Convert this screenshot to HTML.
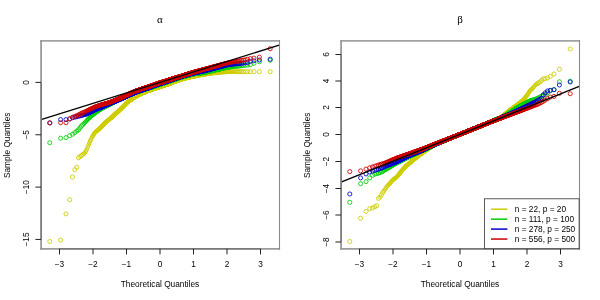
<!DOCTYPE html>
<html><head><meta charset="utf-8"><title>QQ plots</title>
<style>
html,body{margin:0;padding:0;background:#fff;}
svg{display:block;will-change:transform}
text{font-family:"Liberation Sans",sans-serif;fill:#000}
.ax{font-size:8.3px}
.lab{font-size:8.3px}
.leg{font-size:8.3px}
.p{fill:none;stroke:none}
.ttl{font-family:"Liberation Serif",serif;font-size:11px;font-style:normal}
</style></head><body>
<svg width="600" height="300" viewBox="0 0 600 300">
<rect width="600" height="300" fill="#fff"/>
<defs><marker id="mys" markerUnits="userSpaceOnUse" markerWidth="8" markerHeight="8" refX="4" refY="4" viewBox="0 0 8 8" orient="0"><circle cx="4" cy="4" r="2.05" fill="none" stroke="#cdcd00" stroke-width="0.85"/></marker><marker id="myd" markerUnits="userSpaceOnUse" markerWidth="8" markerHeight="8" refX="4" refY="4" viewBox="0 0 8 8" orient="0"><circle cx="4" cy="4" r="1.78" fill="none" stroke="#cdcd00" stroke-width="0.95"/></marker><marker id="mgs" markerUnits="userSpaceOnUse" markerWidth="8" markerHeight="8" refX="4" refY="4" viewBox="0 0 8 8" orient="0"><circle cx="4" cy="4" r="2.05" fill="none" stroke="#00cd00" stroke-width="0.85"/></marker><marker id="mgd" markerUnits="userSpaceOnUse" markerWidth="8" markerHeight="8" refX="4" refY="4" viewBox="0 0 8 8" orient="0"><circle cx="4" cy="4" r="1.78" fill="none" stroke="#00cd00" stroke-width="0.95"/></marker><marker id="mbs" markerUnits="userSpaceOnUse" markerWidth="8" markerHeight="8" refX="4" refY="4" viewBox="0 0 8 8" orient="0"><circle cx="4" cy="4" r="2.05" fill="none" stroke="#0000cd" stroke-width="0.85"/></marker><marker id="mbd" markerUnits="userSpaceOnUse" markerWidth="8" markerHeight="8" refX="4" refY="4" viewBox="0 0 8 8" orient="0"><circle cx="4" cy="4" r="1.78" fill="none" stroke="#0000cd" stroke-width="0.95"/></marker><marker id="mrs" markerUnits="userSpaceOnUse" markerWidth="8" markerHeight="8" refX="4" refY="4" viewBox="0 0 8 8" orient="0"><circle cx="4" cy="4" r="2.05" fill="none" stroke="#cd0000" stroke-width="0.85"/></marker><marker id="mrd" markerUnits="userSpaceOnUse" markerWidth="8" markerHeight="8" refX="4" refY="4" viewBox="0 0 8 8" orient="0"><circle cx="4" cy="4" r="1.78" fill="none" stroke="#cd0000" stroke-width="0.95"/></marker></defs>
<polyline class="p" marker-start="url(#mys)" marker-mid="url(#mys)" marker-end="url(#mys)" points="49.8,241.5 60.6,240.1 66.0,213.9 69.7,199.7 72.5,177.0 74.8,169.7 76.8,167.2 78.5,157.8 80.0,156.6 81.4,155.6 82.7,154.6"/><polyline class="p" marker-start="url(#myd)" marker-mid="url(#myd)" marker-end="url(#myd)" points="83.8,153.6 84.9,152.8 85.9,151.1 86.9,149.4 87.7,147.1 88.6,145.0 89.4,143.0 90.1,141.2 90.8,139.7 91.5,138.3 92.2,137.0 92.8,135.8 93.5,134.7 94.1,133.7 94.6,132.9 95.2,132.4 95.7,132.0 96.2,131.5 96.7,131.1 97.2,130.6 97.7,130.2 98.2,129.8 98.6,129.4 99.1,129.0 99.5,128.6 99.9,128.2 100.4,127.8 100.8,127.4 101.2,127.0 101.5,126.6 101.9,126.2 102.3,125.8 102.7,125.4 103.0,125.1 103.4,124.7 103.7,124.4 104.1,124.0 104.4,123.7 104.7,123.3 105.1,123.0 105.4,122.7 105.7,122.3 106.0,122.1 106.3,121.8 106.6,121.6 106.9,121.3 107.2,121.1 107.5,120.8 107.8,120.6 108.1,120.4 108.3,120.1 108.6,119.9 108.9,119.7 109.1,119.4 109.4,119.2 109.7,119.0 109.9,118.8 110.2,118.6 110.4,118.4 110.7,118.2 110.9,118.0 111.2,117.8 111.4,117.6 111.7,117.4 111.9,117.1 112.1,116.9 112.4,116.7 112.6,116.5 112.8,116.3 113.0,116.1 113.3,115.9 113.5,115.7 113.7,115.5 113.9,115.3 114.1,115.1 114.4,114.9 114.6,114.7 114.8,114.5 115.0,114.3 115.2,114.1 115.4,113.9 115.6,113.8 115.8,113.6 116.0,113.4 116.2,113.2 116.4,113.0 116.6,112.9 116.8,112.7 117.0,112.5 117.2,112.3 117.4,112.2 117.5,112.0 117.7,111.8 117.9,111.6 118.1,111.5 118.3,111.3 118.5,111.1 118.6,111.0 118.8,110.8 119.0,110.6 119.2,110.4 119.4,110.3 119.5,110.1 119.7,109.9 119.9,109.8 120.0,109.6 120.2,109.5 120.4,109.3 120.6,109.1 120.7,109.0 120.9,108.8 121.1,108.7 121.2,108.5 121.4,108.3 121.5,108.2 121.7,108.0 121.9,107.9 122.0,107.7 122.2,107.6 122.3,107.4 122.5,107.3 122.7,107.1 122.8,107.0 123.0,106.8 123.1,106.7 123.3,106.5 123.4,106.4 123.6,106.2 123.7,106.0 123.9,105.9 124.0,105.7 124.2,105.5 124.3,105.4 124.5,105.2 124.6,105.1 124.8,104.9 124.9,104.7 125.1,104.6 125.2,104.4 125.4,104.3 125.5,104.1 125.6,104.0 125.8,103.8 125.9,103.7 126.1,103.5 126.2,103.4 126.3,103.2 126.5,103.1 126.6,102.9 126.8,102.8 126.9,102.7 127.0,102.6 127.2,102.5 127.3,102.4 127.4,102.3 127.6,102.2 127.7,102.1 127.8,102.0 128.0,101.9 128.1,101.8 128.2,101.7 128.4,101.6 128.5,101.5 128.6,101.4 128.8,101.3 128.9,101.2 129.0,101.2 129.1,101.1 129.3,101.0 129.4,100.9 129.5,100.8 129.7,100.7 129.8,100.6 129.9,100.5 130.0,100.4 130.2,100.3 130.3,100.2 130.4,100.2 130.5,100.1 130.7,100.0 130.8,99.9 130.9,99.8 131.0,99.7 131.1,99.6 131.3,99.5 131.4,99.5 131.5,99.4 131.6,99.3 131.7,99.2 131.9,99.1 132.0,99.0 132.1,98.9 132.2,98.9 132.3,98.8 132.5,98.7 132.6,98.6 132.7,98.5 132.8,98.4 132.9,98.3 133.0,98.3 133.2,98.2 133.3,98.1 133.4,98.0 133.5,97.9 133.6,97.8 133.7,97.8 133.8,97.7 134.0,97.6 134.1,97.5 134.2,97.4 134.3,97.4 134.4,97.3 134.5,97.2 134.6,97.1 134.7,97.0 134.9,97.0 135.0,96.9 135.1,96.8 135.2,96.8 135.3,96.7 135.4,96.6 135.5,96.6 135.6,96.5 135.7,96.5 135.9,96.4 136.0,96.4 136.1,96.3 136.2,96.3 136.3,96.2 136.4,96.1 136.5,96.1 136.6,96.0 136.7,96.0 136.8,95.9 136.9,95.9 137.0,95.8 137.1,95.8 137.2,95.7 137.4,95.7 137.5,95.6 137.6,95.6 137.7,95.5 137.8,95.5 137.9,95.4 138.0,95.3 138.1,95.3 138.2,95.2 138.3,95.2 138.4,95.1 138.5,95.1 138.6,95.0 138.7,95.0 138.8,94.9 138.9,94.9 139.0,94.8 139.1,94.8 139.2,94.7 139.3,94.7 139.4,94.6 139.5,94.6 139.6,94.5 139.7,94.5 139.8,94.4 139.9,94.4 140.0,94.3 140.1,94.3 140.2,94.2 140.3,94.2 140.4,94.1 140.5,94.1 140.6,94.0 140.7,94.0 140.8,93.9 140.9,93.9 141.0,93.8 141.1,93.8 141.2,93.7 141.3,93.7 141.4,93.6 141.5,93.6 141.6,93.5 141.7,93.5 141.8,93.4 141.9,93.4 142.0,93.3 142.1,93.3 142.2,93.2 142.3,93.2 142.4,93.1 142.5,93.1 142.6,93.0 142.7,93.0 142.8,92.9 142.9,92.9 143.0,92.8 143.1,92.8 143.2,92.7 143.2,92.7 143.3,92.6 143.4,92.6 143.5,92.6 143.6,92.5 143.7,92.5 143.8,92.5 143.9,92.4 144.0,92.4 144.1,92.4 144.2,92.3 144.3,92.3 144.4,92.2 144.5,92.2 144.6,92.2 144.7,92.1 144.8,92.1 144.8,92.1 144.9,92.0 145.0,92.0 145.1,92.0 145.2,91.9 145.3,91.9 145.4,91.8 145.5,91.8 145.6,91.8 145.7,91.7 145.8,91.7 145.9,91.7 146.0,91.6 146.0,91.6 146.1,91.6 146.2,91.5 146.3,91.5 146.4,91.5 146.5,91.4 146.6,91.4 146.7,91.4 146.8,91.3 146.9,91.3 147.0,91.2 147.0,91.2 147.1,91.2 147.2,91.1 147.3,91.1 147.4,91.1 147.5,91.0 147.6,91.0 147.7,91.0 147.8,90.9 147.9,90.9 147.9,90.9 148.0,90.8 148.1,90.8 148.2,90.8 148.3,90.7 148.4,90.7 148.5,90.7 148.6,90.6 148.7,90.6 148.7,90.6 148.8,90.5 148.9,90.5 149.0,90.4 149.1,90.4 149.2,90.4 149.3,90.3 149.4,90.3 149.5,90.3 149.5,90.2 149.6,90.2 149.7,90.2 149.8,90.1 149.9,90.1 150.0,90.1 150.1,90.0 150.2,90.0 150.2,90.0 150.3,89.9 150.4,89.9 150.5,89.9 150.6,89.8 150.7,89.8 150.8,89.8 150.9,89.7 150.9,89.7 151.0,89.7 151.1,89.6 151.2,89.6 151.3,89.6 151.4,89.5 151.5,89.5 151.6,89.5 151.6,89.4 151.7,89.4 151.8,89.4 151.9,89.3 152.0,89.3 152.1,89.3 152.2,89.3 152.2,89.2 152.3,89.2 152.4,89.2 152.5,89.2 152.6,89.1 152.7,89.1 152.8,89.1 152.9,89.0 152.9,89.0 153.0,89.0 153.1,89.0 153.2,88.9 153.3,88.9 153.4,88.9 153.5,88.9 153.5,88.8 153.6,88.8 153.7,88.8 153.8,88.8 153.9,88.7 154.0,88.7 154.0,88.7 154.1,88.6 154.2,88.6 154.3,88.6 154.4,88.6 154.5,88.5 154.6,88.5 154.6,88.5 154.7,88.5 154.8,88.4 154.9,88.4 155.0,88.4 155.1,88.4 155.2,88.3 155.2,88.3 155.3,88.3 155.4,88.2 155.5,88.2 155.6,88.2 155.7,88.2 155.7,88.1 155.8,88.1 155.9,88.1 156.0,88.1 156.1,88.0 156.2,88.0 156.3,88.0 156.3,88.0 156.4,87.9 156.5,87.9 156.6,87.9 156.7,87.8 156.8,87.8 156.8,87.8 156.9,87.8 157.0,87.7 157.1,87.7 157.2,87.7 157.3,87.7 157.4,87.6 157.4,87.6 157.5,87.6 157.6,87.6 157.7,87.5 157.8,87.5 157.9,87.5 157.9,87.4 158.0,87.4 158.1,87.4 158.2,87.4 158.3,87.3 158.4,87.3 158.4,87.3 158.5,87.3 158.6,87.2 158.7,87.2 158.8,87.2 158.9,87.2 159.0,87.1 159.0,87.1 159.1,87.1 159.2,87.0 159.3,87.0 159.4,87.0 159.5,87.0 159.5,86.9 159.6,86.9 159.7,86.9 159.8,86.9 159.9,86.8 160.0,86.8 160.0,86.8 160.1,86.8 160.2,86.7 160.3,86.7 160.4,86.7 160.5,86.6 160.5,86.6 160.6,86.6 160.7,86.6 160.8,86.5 160.9,86.5 161.0,86.5 161.0,86.4 161.1,86.4 161.2,86.4 161.3,86.4 161.4,86.3 161.5,86.3 161.6,86.3 161.6,86.2 161.7,86.2 161.8,86.2 161.9,86.2 162.0,86.1 162.1,86.1 162.1,86.1 162.2,86.0 162.3,86.0 162.4,86.0 162.5,86.0 162.6,85.9 162.6,85.9 162.7,85.9 162.8,85.8 162.9,85.8 163.0,85.8 163.1,85.8 163.2,85.7 163.2,85.7 163.3,85.7 163.4,85.6 163.5,85.6 163.6,85.6 163.7,85.6 163.7,85.5 163.8,85.5 163.9,85.5 164.0,85.4 164.1,85.4 164.2,85.4 164.3,85.4 164.3,85.3 164.4,85.3 164.5,85.3 164.6,85.2 164.7,85.2 164.8,85.2 164.8,85.1 164.9,85.1 165.0,85.1 165.1,85.1 165.2,85.0 165.3,85.0 165.4,85.0 165.4,84.9 165.5,84.9 165.6,84.9 165.7,84.9 165.8,84.8 165.9,84.8 166.0,84.8 166.0,84.7 166.1,84.7 166.2,84.7 166.3,84.7 166.4,84.6 166.5,84.6 166.5,84.6 166.6,84.5 166.7,84.5 166.8,84.5 166.9,84.5 167.0,84.4 167.1,84.4 167.1,84.4 167.2,84.3 167.3,84.3 167.4,84.3 167.5,84.2 167.6,84.2 167.7,84.2 167.8,84.2 167.8,84.1 167.9,84.1 168.0,84.1 168.1,84.0 168.2,84.0 168.3,84.0 168.4,84.0 168.4,83.9 168.5,83.9 168.6,83.9 168.7,83.8 168.8,83.8 168.9,83.8 169.0,83.7 169.1,83.7 169.1,83.7 169.2,83.6 169.3,83.6 169.4,83.6 169.5,83.5 169.6,83.5 169.7,83.5 169.8,83.4 169.8,83.4 169.9,83.4 170.0,83.3 170.1,83.3 170.2,83.3 170.3,83.2 170.4,83.2 170.5,83.2 170.5,83.1 170.6,83.1 170.7,83.1 170.8,83.0 170.9,83.0 171.0,83.0 171.1,82.9 171.2,82.9 171.3,82.9 171.3,82.8 171.4,82.8 171.5,82.8 171.6,82.7 171.7,82.7 171.8,82.7 171.9,82.6 172.0,82.6 172.1,82.6 172.1,82.5 172.2,82.5 172.3,82.5 172.4,82.4 172.5,82.4 172.6,82.4 172.7,82.3 172.8,82.3 172.9,82.3 173.0,82.2 173.0,82.2 173.1,82.2 173.2,82.1 173.3,82.1 173.4,82.1 173.5,82.0 173.6,82.0 173.7,82.0 173.8,81.9 173.9,81.9 174.0,81.9 174.0,81.8 174.1,81.8 174.2,81.8 174.3,81.7 174.4,81.7 174.5,81.7 174.6,81.6 174.7,81.6 174.8,81.5 174.9,81.5 175.0,81.5 175.1,81.4 175.2,81.4 175.2,81.4 175.3,81.3 175.4,81.3 175.5,81.3 175.6,81.2 175.7,81.2 175.8,81.2 175.9,81.1 176.0,81.1 176.1,81.1 176.2,81.0 176.3,81.0 176.4,81.0 176.5,80.9 176.6,80.9 176.7,80.8 176.8,80.8 176.8,80.8 176.9,80.8 177.0,80.7 177.1,80.7 177.2,80.7 177.3,80.6 177.4,80.6 177.5,80.6 177.6,80.5 177.7,80.5 177.8,80.5 177.9,80.4 178.0,80.4 178.1,80.4 178.2,80.4 178.3,80.3 178.4,80.3 178.5,80.3 178.6,80.2 178.7,80.2 178.8,80.2 178.9,80.1 179.0,80.1 179.1,80.1 179.2,80.0 179.3,80.0 179.4,80.0 179.5,80.0 179.6,79.9 179.7,79.9 179.8,79.9 179.9,79.8 180.0,79.8 180.1,79.8 180.2,79.7 180.3,79.7 180.4,79.7 180.5,79.6 180.6,79.6 180.7,79.6 180.8,79.5 180.9,79.5 181.0,79.5 181.1,79.4 181.2,79.4 181.3,79.4 181.4,79.3 181.5,79.3 181.6,79.3 181.7,79.2 181.8,79.2 181.9,79.2 182.0,79.2 182.1,79.1 182.2,79.1 182.3,79.1 182.4,79.0 182.5,79.0 182.6,79.0 182.8,78.9 182.9,78.9 183.0,78.9 183.1,78.8 183.2,78.8 183.3,78.8 183.4,78.7 183.5,78.7 183.6,78.6 183.7,78.6 183.8,78.6 183.9,78.5 184.0,78.5 184.1,78.5 184.3,78.4 184.4,78.4 184.5,78.4 184.6,78.3 184.7,78.3 184.8,78.3 184.9,78.2 185.0,78.2 185.1,78.2 185.3,78.2 185.4,78.1 185.5,78.1 185.6,78.1 185.7,78.1 185.8,78.0 185.9,78.0 186.0,78.0 186.2,77.9 186.3,77.9 186.4,77.9 186.5,77.9 186.6,77.8 186.7,77.8 186.8,77.8 187.0,77.8 187.1,77.7 187.2,77.7 187.3,77.7 187.4,77.7 187.5,77.6 187.7,77.6 187.8,77.6 187.9,77.6 188.0,77.5 188.1,77.5 188.3,77.5 188.4,77.4 188.5,77.4 188.6,77.4 188.7,77.4 188.9,77.3 189.0,77.3 189.1,77.3 189.2,77.3 189.3,77.2 189.5,77.2 189.6,77.2 189.7,77.1 189.8,77.1 190.0,77.1 190.1,77.1 190.2,77.0 190.3,77.0 190.5,77.0 190.6,76.9 190.7,76.9 190.9,76.9 191.0,76.9 191.1,76.8 191.2,76.8 191.4,76.8 191.5,76.7 191.6,76.7 191.8,76.7 191.9,76.6 192.0,76.6 192.2,76.6 192.3,76.6 192.4,76.5 192.6,76.5 192.7,76.5 192.8,76.4 193.0,76.4 193.1,76.4 193.2,76.3 193.4,76.3 193.5,76.3 193.7,76.3 193.8,76.2 193.9,76.2 194.1,76.2 194.2,76.1 194.4,76.1 194.5,76.1 194.6,76.1 194.8,76.0 194.9,76.0 195.1,76.0 195.2,75.9 195.4,75.9 195.5,75.9 195.7,75.9 195.8,75.8 196.0,75.8 196.1,75.8 196.3,75.7 196.4,75.7 196.6,75.7 196.7,75.6 196.9,75.6 197.0,75.6 197.2,75.6 197.3,75.5 197.5,75.5 197.7,75.5 197.8,75.4 198.0,75.4 198.1,75.4 198.3,75.3 198.5,75.3 198.6,75.3 198.8,75.2 198.9,75.2 199.1,75.2 199.3,75.1 199.4,75.1 199.6,75.1 199.8,75.0 200.0,75.0 200.1,75.0 200.3,74.9 200.5,74.9 200.6,74.9 200.8,74.8 201.0,74.8 201.2,74.8 201.4,74.7 201.5,74.7 201.7,74.7 201.9,74.6 202.1,74.6 202.3,74.6 202.5,74.5 202.6,74.5 202.8,74.5 203.0,74.4 203.2,74.4 203.4,74.4 203.6,74.3 203.8,74.3 204.0,74.3 204.2,74.2 204.4,74.2 204.6,74.2 204.8,74.1 205.0,74.1 205.2,74.1 205.4,74.0 205.6,74.0 205.9,74.0 206.1,73.9 206.3,73.9 206.5,73.9 206.7,73.8 207.0,73.8 207.2,73.8 207.4,73.7 207.6,73.7 207.9,73.6 208.1,73.6 208.3,73.6 208.6,73.5 208.8,73.5 209.1,73.4 209.3,73.4 209.6,73.4 209.8,73.3 210.1,73.3 210.3,73.3 210.6,73.2 210.9,73.2 211.1,73.2 211.4,73.1 211.7,73.1 211.9,73.1 212.2,73.1 212.5,73.0 212.8,73.0 213.1,73.0 213.4,72.9 213.7,72.9 214.0,72.9 214.3,72.8 214.6,72.8 214.9,72.8 215.3,72.7 215.6,72.7 215.9,72.7 216.3,72.6 216.6,72.6 217.0,72.6 217.3,72.5 217.7,72.5 218.1,72.4 218.5,72.4 218.8,72.4 219.2,72.3 219.6,72.3 220.1,72.2 220.5,72.2 220.9,72.2 221.4,72.2 221.8,72.1 222.3,72.1 222.8,72.1 223.3,72.0 223.8,72.0 224.3,72.0 224.8,72.0 225.4,71.9 225.9,71.9 226.5,71.9 227.2,71.8 227.8,71.8 228.5,71.8 229.2,71.8 229.9,71.8 230.6,71.8 231.4,71.8 232.3,71.8 233.1,71.7 234.1,71.7 235.1,71.7 236.2,71.7"/><polyline class="p" marker-start="url(#mys)" marker-mid="url(#mys)" marker-end="url(#mys)" points="237.3,71.7 238.6,71.7 240.0,71.7 241.5,71.7 243.2,71.7 245.2,71.7 247.5,71.7 250.3,71.7 254.0,71.7 259.4,71.7 270.2,71.7"/>
<polyline class="p" marker-start="url(#mgs)" marker-mid="url(#mgs)" marker-end="url(#mgs)" points="49.8,142.7 60.6,138.2 66.0,137.6 69.7,135.7 72.5,134.2 74.8,132.6 76.8,131.1 78.5,129.7 80.0,127.7 81.4,126.1 82.7,124.8"/><polyline class="p" marker-start="url(#mgd)" marker-mid="url(#mgd)" marker-end="url(#mgd)" points="83.8,123.6 84.9,122.5 85.9,121.4 86.9,120.4 87.7,119.5 88.6,118.7 89.4,117.9 90.1,117.2 90.8,116.6 91.5,115.9 92.2,115.4 92.8,114.9 93.5,114.4 94.1,113.9 94.6,113.4 95.2,113.0 95.7,112.6 96.2,112.2 96.7,111.9 97.2,111.6 97.7,111.2 98.2,110.9 98.6,110.6 99.1,110.3 99.5,110.1 99.9,109.8 100.4,109.5 100.8,109.2 101.2,109.0 101.5,108.8 101.9,108.6 102.3,108.3 102.7,108.1 103.0,107.9 103.4,107.7 103.7,107.5 104.1,107.3 104.4,107.1 104.7,106.9 105.1,106.7 105.4,106.5 105.7,106.4 106.0,106.2 106.3,106.0 106.6,105.9 106.9,105.7 107.2,105.6 107.5,105.4 107.8,105.3 108.1,105.2 108.3,105.0 108.6,104.9 108.9,104.7 109.1,104.6 109.4,104.5 109.7,104.3 109.9,104.2 110.2,104.1 110.4,103.9 110.7,103.8 110.9,103.7 111.2,103.6 111.4,103.4 111.7,103.3 111.9,103.2 112.1,103.1 112.4,103.0 112.6,102.9 112.8,102.8 113.0,102.7 113.3,102.6 113.5,102.5 113.7,102.4 113.9,102.3 114.1,102.1 114.4,102.0 114.6,102.0 114.8,101.9 115.0,101.8 115.2,101.7 115.4,101.6 115.6,101.5 115.8,101.4 116.0,101.3 116.2,101.2 116.4,101.1 116.6,101.0 116.8,100.9 117.0,100.8 117.2,100.7 117.4,100.6 117.5,100.6 117.7,100.5 117.9,100.4 118.1,100.3 118.3,100.2 118.5,100.1 118.6,100.0 118.8,99.9 119.0,99.9 119.2,99.8 119.4,99.7 119.5,99.6 119.7,99.5 119.9,99.4 120.0,99.3 120.2,99.3 120.4,99.2 120.6,99.1 120.7,99.0 120.9,98.9 121.1,98.9 121.2,98.8 121.4,98.7 121.5,98.6 121.7,98.5 121.9,98.5 122.0,98.4 122.2,98.3 122.3,98.2 122.5,98.2 122.7,98.1 122.8,98.0 123.0,97.9 123.1,97.9 123.3,97.8 123.4,97.7 123.6,97.6 123.7,97.6 123.9,97.5 124.0,97.4 124.2,97.3 124.3,97.3 124.5,97.2 124.6,97.1 124.8,97.1 124.9,97.0 125.1,96.9 125.2,96.8 125.4,96.8 125.5,96.7 125.6,96.6 125.8,96.6 125.9,96.5 126.1,96.4 126.2,96.4 126.3,96.3 126.5,96.2 126.6,96.2 126.8,96.1 126.9,96.1 127.0,96.0 127.2,95.9 127.3,95.9 127.4,95.8 127.6,95.8 127.7,95.7 127.8,95.7 128.0,95.6 128.1,95.5 128.2,95.5 128.4,95.4 128.5,95.4 128.6,95.3 128.8,95.3 128.9,95.2 129.0,95.2 129.1,95.1 129.3,95.0 129.4,95.0 129.5,94.9 129.7,94.9 129.8,94.8 129.9,94.8 130.0,94.7 130.2,94.7 130.3,94.6 130.4,94.6 130.5,94.5 130.7,94.5 130.8,94.4 130.9,94.4 131.0,94.3 131.1,94.2 131.3,94.2 131.4,94.1 131.5,94.1 131.6,94.0 131.7,94.0 131.9,93.9 132.0,93.9 132.1,93.8 132.2,93.8 132.3,93.7 132.5,93.7 132.6,93.6 132.7,93.6 132.8,93.5 132.9,93.5 133.0,93.4 133.2,93.4 133.3,93.3 133.4,93.3 133.5,93.2 133.6,93.2 133.7,93.1 133.8,93.1 134.0,93.0 134.1,93.0 134.2,93.0 134.3,92.9 134.4,92.9 134.5,92.8 134.6,92.8 134.7,92.7 134.9,92.7 135.0,92.6 135.1,92.6 135.2,92.6 135.3,92.5 135.4,92.5 135.5,92.4 135.6,92.4 135.7,92.4 135.9,92.3 136.0,92.3 136.1,92.3 136.2,92.2 136.3,92.2 136.4,92.2 136.5,92.1 136.6,92.1 136.7,92.1 136.8,92.0 136.9,92.0 137.0,92.0 137.1,91.9 137.2,91.9 137.4,91.9 137.5,91.8 137.6,91.8 137.7,91.8 137.8,91.7 137.9,91.7 138.0,91.7 138.1,91.6 138.2,91.6 138.3,91.5 138.4,91.5 138.5,91.5 138.6,91.4 138.7,91.4 138.8,91.4 138.9,91.3 139.0,91.3 139.1,91.3 139.2,91.2 139.3,91.2 139.4,91.2 139.5,91.2 139.6,91.1 139.7,91.1 139.8,91.1 139.9,91.0 140.0,91.0 140.1,91.0 140.2,90.9 140.3,90.9 140.4,90.9 140.5,90.8 140.6,90.8 140.7,90.8 140.8,90.7 140.9,90.7 141.0,90.7 141.1,90.6 141.2,90.6 141.3,90.6 141.4,90.5 141.5,90.5 141.6,90.5 141.7,90.4 141.8,90.4 141.9,90.4 142.0,90.3 142.1,90.3 142.2,90.3 142.3,90.3 142.4,90.2 142.5,90.2 142.6,90.2 142.7,90.1 142.8,90.1 142.9,90.1 143.0,90.0 143.1,90.0 143.2,90.0 143.2,89.9 143.3,89.9 143.4,89.9 143.5,89.8 143.6,89.8 143.7,89.8 143.8,89.8 143.9,89.7 144.0,89.7 144.1,89.7 144.2,89.6 144.3,89.6 144.4,89.6 144.5,89.5 144.6,89.5 144.7,89.5 144.8,89.5 144.8,89.4 144.9,89.4 145.0,89.4 145.1,89.3 145.2,89.3 145.3,89.3 145.4,89.2 145.5,89.2 145.6,89.2 145.7,89.1 145.8,89.1 145.9,89.1 146.0,89.1 146.0,89.0 146.1,89.0 146.2,89.0 146.3,88.9 146.4,88.9 146.5,88.9 146.6,88.9 146.7,88.8 146.8,88.8 146.9,88.8 147.0,88.7 147.0,88.7 147.1,88.7 147.2,88.6 147.3,88.6 147.4,88.6 147.5,88.6 147.6,88.5 147.7,88.5 147.8,88.5 147.9,88.4 147.9,88.4 148.0,88.4 148.1,88.4 148.2,88.3 148.3,88.3 148.4,88.3 148.5,88.2 148.6,88.2 148.7,88.2 148.7,88.2 148.8,88.1 148.9,88.1 149.0,88.1 149.1,88.0 149.2,88.0 149.3,88.0 149.4,87.9 149.5,87.9 149.5,87.9 149.6,87.9 149.7,87.8 149.8,87.8 149.9,87.8 150.0,87.7 150.1,87.7 150.2,87.7 150.2,87.7 150.3,87.6 150.4,87.6 150.5,87.6 150.6,87.5 150.7,87.5 150.8,87.5 150.9,87.5 150.9,87.4 151.0,87.4 151.1,87.4 151.2,87.4 151.3,87.3 151.4,87.3 151.5,87.3 151.6,87.2 151.6,87.2 151.7,87.2 151.8,87.2 151.9,87.1 152.0,87.1 152.1,87.1 152.2,87.0 152.2,87.0 152.3,87.0 152.4,87.0 152.5,86.9 152.6,86.9 152.7,86.9 152.8,86.8 152.9,86.8 152.9,86.8 153.0,86.8 153.1,86.7 153.2,86.7 153.3,86.7 153.4,86.7 153.5,86.6 153.5,86.6 153.6,86.6 153.7,86.5 153.8,86.5 153.9,86.5 154.0,86.5 154.0,86.4 154.1,86.4 154.2,86.4 154.3,86.3 154.4,86.3 154.5,86.3 154.6,86.3 154.6,86.2 154.7,86.2 154.8,86.2 154.9,86.2 155.0,86.1 155.1,86.1 155.2,86.1 155.2,86.0 155.3,86.0 155.4,86.0 155.5,86.0 155.6,85.9 155.7,85.9 155.7,85.9 155.8,85.8 155.9,85.8 156.0,85.8 156.1,85.8 156.2,85.7 156.3,85.7 156.3,85.7 156.4,85.7 156.5,85.6 156.6,85.6 156.7,85.6 156.8,85.5 156.8,85.5 156.9,85.5 157.0,85.5 157.1,85.4 157.2,85.4 157.3,85.4 157.4,85.4 157.4,85.3 157.5,85.3 157.6,85.3 157.7,85.2 157.8,85.2 157.9,85.2 157.9,85.2 158.0,85.1 158.1,85.1 158.2,85.1 158.3,85.1 158.4,85.0 158.4,85.0 158.5,85.0 158.6,84.9 158.7,84.9 158.8,84.9 158.9,84.9 159.0,84.8 159.0,84.8 159.1,84.8 159.2,84.8 159.3,84.7 159.4,84.7 159.5,84.7 159.5,84.6 159.6,84.6 159.7,84.6 159.8,84.6 159.9,84.5 160.0,84.5 160.0,84.5 160.1,84.5 160.2,84.4 160.3,84.4 160.4,84.4 160.5,84.3 160.5,84.3 160.6,84.3 160.7,84.2 160.8,84.2 160.9,84.2 161.0,84.2 161.0,84.1 161.1,84.1 161.2,84.1 161.3,84.0 161.4,84.0 161.5,84.0 161.6,84.0 161.6,83.9 161.7,83.9 161.8,83.9 161.9,83.8 162.0,83.8 162.1,83.8 162.1,83.8 162.2,83.7 162.3,83.7 162.4,83.7 162.5,83.6 162.6,83.6 162.6,83.6 162.7,83.6 162.8,83.5 162.9,83.5 163.0,83.5 163.1,83.4 163.2,83.4 163.2,83.4 163.3,83.4 163.4,83.3 163.5,83.3 163.6,83.3 163.7,83.2 163.7,83.2 163.8,83.2 163.9,83.1 164.0,83.1 164.1,83.1 164.2,83.1 164.3,83.0 164.3,83.0 164.4,83.0 164.5,82.9 164.6,82.9 164.7,82.9 164.8,82.9 164.8,82.8 164.9,82.8 165.0,82.8 165.1,82.7 165.2,82.7 165.3,82.7 165.4,82.7 165.4,82.6 165.5,82.6 165.6,82.6 165.7,82.5 165.8,82.5 165.9,82.5 166.0,82.4 166.0,82.4 166.1,82.4 166.2,82.4 166.3,82.3 166.4,82.3 166.5,82.3 166.5,82.2 166.6,82.2 166.7,82.2 166.8,82.2 166.9,82.1 167.0,82.1 167.1,82.1 167.1,82.0 167.2,82.0 167.3,82.0 167.4,81.9 167.5,81.9 167.6,81.9 167.7,81.9 167.8,81.8 167.8,81.8 167.9,81.8 168.0,81.7 168.1,81.7 168.2,81.7 168.3,81.7 168.4,81.6 168.4,81.6 168.5,81.6 168.6,81.5 168.7,81.5 168.8,81.5 168.9,81.4 169.0,81.4 169.1,81.4 169.1,81.4 169.2,81.3 169.3,81.3 169.4,81.3 169.5,81.2 169.6,81.2 169.7,81.2 169.8,81.1 169.8,81.1 169.9,81.1 170.0,81.1 170.1,81.0 170.2,81.0 170.3,81.0 170.4,80.9 170.5,80.9 170.5,80.9 170.6,80.8 170.7,80.8 170.8,80.8 170.9,80.7 171.0,80.7 171.1,80.7 171.2,80.7 171.3,80.6 171.3,80.6 171.4,80.6 171.5,80.5 171.6,80.5 171.7,80.5 171.8,80.4 171.9,80.4 172.0,80.4 172.1,80.4 172.1,80.3 172.2,80.3 172.3,80.3 172.4,80.2 172.5,80.2 172.6,80.2 172.7,80.1 172.8,80.1 172.9,80.1 173.0,80.0 173.0,80.0 173.1,80.0 173.2,79.9 173.3,79.9 173.4,79.9 173.5,79.9 173.6,79.8 173.7,79.8 173.8,79.8 173.9,79.7 174.0,79.7 174.0,79.7 174.1,79.6 174.2,79.6 174.3,79.6 174.4,79.5 174.5,79.5 174.6,79.5 174.7,79.4 174.8,79.4 174.9,79.4 175.0,79.3 175.1,79.3 175.2,79.3 175.2,79.3 175.3,79.2 175.4,79.2 175.5,79.2 175.6,79.1 175.7,79.1 175.8,79.1 175.9,79.0 176.0,79.0 176.1,79.0 176.2,78.9 176.3,78.9 176.4,78.9 176.5,78.8 176.6,78.8 176.7,78.8 176.8,78.7 176.8,78.7 176.9,78.7 177.0,78.6 177.1,78.6 177.2,78.6 177.3,78.5 177.4,78.5 177.5,78.5 177.6,78.4 177.7,78.4 177.8,78.4 177.9,78.3 178.0,78.3 178.1,78.3 178.2,78.2 178.3,78.2 178.4,78.2 178.5,78.1 178.6,78.1 178.7,78.1 178.8,78.0 178.9,78.0 179.0,78.0 179.1,77.9 179.2,77.9 179.3,77.9 179.4,77.8 179.5,77.8 179.6,77.8 179.7,77.7 179.8,77.7 179.9,77.7 180.0,77.6 180.1,77.6 180.2,77.6 180.3,77.5 180.4,77.5 180.5,77.5 180.6,77.5 180.7,77.4 180.8,77.4 180.9,77.4 181.0,77.3 181.1,77.3 181.2,77.3 181.3,77.3 181.4,77.2 181.5,77.2 181.6,77.2 181.7,77.2 181.8,77.1 181.9,77.1 182.0,77.1 182.1,77.0 182.2,77.0 182.3,77.0 182.4,77.0 182.5,76.9 182.6,76.9 182.8,76.9 182.9,76.9 183.0,76.8 183.1,76.8 183.2,76.8 183.3,76.7 183.4,76.7 183.5,76.7 183.6,76.7 183.7,76.6 183.8,76.6 183.9,76.6 184.0,76.5 184.1,76.5 184.3,76.5 184.4,76.5 184.5,76.4 184.6,76.4 184.7,76.4 184.8,76.3 184.9,76.3 185.0,76.3 185.1,76.2 185.3,76.2 185.4,76.2 185.5,76.2 185.6,76.1 185.7,76.1 185.8,76.1 185.9,76.0 186.0,76.0 186.2,76.0 186.3,75.9 186.4,75.9 186.5,75.9 186.6,75.9 186.7,75.8 186.8,75.8 187.0,75.8 187.1,75.7 187.2,75.7 187.3,75.7 187.4,75.6 187.5,75.6 187.7,75.6 187.8,75.5 187.9,75.5 188.0,75.5 188.1,75.4 188.3,75.4 188.4,75.4 188.5,75.4 188.6,75.3 188.7,75.3 188.9,75.3 189.0,75.2 189.1,75.2 189.2,75.2 189.3,75.1 189.5,75.1 189.6,75.1 189.7,75.0 189.8,75.0 190.0,75.0 190.1,74.9 190.2,74.9 190.3,74.9 190.5,74.8 190.6,74.8 190.7,74.8 190.9,74.7 191.0,74.7 191.1,74.7 191.2,74.6 191.4,74.6 191.5,74.6 191.6,74.5 191.8,74.5 191.9,74.4 192.0,74.4 192.2,74.4 192.3,74.3 192.4,74.3 192.6,74.3 192.7,74.2 192.8,74.2 193.0,74.2 193.1,74.1 193.2,74.1 193.4,74.1 193.5,74.0 193.7,74.0 193.8,74.0 193.9,74.0 194.1,73.9 194.2,73.9 194.4,73.9 194.5,73.9 194.6,73.9 194.8,73.8 194.9,73.8 195.1,73.8 195.2,73.8 195.4,73.8 195.5,73.7 195.7,73.7 195.8,73.7 196.0,73.7 196.1,73.7 196.3,73.6 196.4,73.6 196.6,73.6 196.7,73.6 196.9,73.6 197.0,73.5 197.2,73.5 197.3,73.5 197.5,73.5 197.7,73.5 197.8,73.4 198.0,73.4 198.1,73.4 198.3,73.4 198.5,73.3 198.6,73.3 198.8,73.3 198.9,73.3 199.1,73.3 199.3,73.2 199.4,73.2 199.6,73.2 199.8,73.2 200.0,73.1 200.1,73.1 200.3,73.1 200.5,73.1 200.6,73.0 200.8,73.0 201.0,73.0 201.2,73.0 201.4,72.9 201.5,72.9 201.7,72.9 201.9,72.9 202.1,72.8 202.3,72.8 202.5,72.8 202.6,72.8 202.8,72.7 203.0,72.7 203.2,72.7 203.4,72.7 203.6,72.6 203.8,72.6 204.0,72.6 204.2,72.5 204.4,72.5 204.6,72.5 204.8,72.5 205.0,72.4 205.2,72.4 205.4,72.3 205.6,72.3 205.9,72.2 206.1,72.2 206.3,72.1 206.5,72.1 206.7,72.0 207.0,72.0 207.2,71.9 207.4,71.9 207.6,71.8 207.9,71.8 208.1,71.7 208.3,71.7 208.6,71.6 208.8,71.6 209.1,71.5 209.3,71.5 209.6,71.4 209.8,71.4 210.1,71.3 210.3,71.2 210.6,71.2 210.9,71.1 211.1,71.1 211.4,71.0 211.7,70.9 211.9,70.9 212.2,70.8 212.5,70.8 212.8,70.7 213.1,70.6 213.4,70.6 213.7,70.5 214.0,70.4 214.3,70.4 214.6,70.3 214.9,70.2 215.3,70.1 215.6,70.1 215.9,70.0 216.3,69.9 216.6,69.8 217.0,69.8 217.3,69.7 217.7,69.6 218.1,69.5 218.5,69.4 218.8,69.4 219.2,69.3 219.6,69.2 220.1,69.1 220.5,69.0 220.9,68.9 221.4,68.8 221.8,68.7 222.3,68.6 222.8,68.5 223.3,68.4 223.8,68.3 224.3,68.1 224.8,68.0 225.4,67.9 225.9,67.8 226.5,67.6 227.2,67.5 227.8,67.4 228.5,67.4 229.2,67.3 229.9,67.2 230.6,67.1 231.4,67.0 232.3,66.9 233.1,66.8 234.1,66.7 235.1,66.5 236.2,66.4"/><polyline class="p" marker-start="url(#mgs)" marker-mid="url(#mgs)" marker-end="url(#mgs)" points="237.3,66.3 238.6,66.1 240.0,65.9 241.5,65.8 243.2,65.5 245.2,65.3 247.5,65.0 250.3,64.7 254.0,63.3 259.4,61.7 270.2,60.3"/>
<polyline class="p" marker-start="url(#mbs)" marker-mid="url(#mbs)" marker-end="url(#mbs)" points="49.8,122.9 60.6,119.6 66.0,119.6 69.7,118.9 72.5,117.7 74.8,117.2 76.8,116.7 78.5,116.2 80.0,115.9 81.4,115.5 82.7,115.2"/><polyline class="p" marker-start="url(#mbd)" marker-mid="url(#mbd)" marker-end="url(#mbd)" points="83.8,114.9 84.9,114.7 85.9,114.4 86.9,114.2 87.7,113.7 88.6,113.3 89.4,112.9 90.1,112.5 90.8,112.1 91.5,111.8 92.2,111.4 92.8,111.1 93.5,110.8 94.1,110.5 94.6,110.2 95.2,109.9 95.7,109.7 96.2,109.5 96.7,109.3 97.2,109.1 97.7,108.9 98.2,108.8 98.6,108.6 99.1,108.4 99.5,108.3 99.9,108.1 100.4,107.9 100.8,107.7 101.2,107.6 101.5,107.4 101.9,107.2 102.3,107.1 102.7,106.9 103.0,106.7 103.4,106.6 103.7,106.4 104.1,106.3 104.4,106.1 104.7,106.0 105.1,105.9 105.4,105.7 105.7,105.6 106.0,105.4 106.3,105.3 106.6,105.2 106.9,105.0 107.2,104.9 107.5,104.8 107.8,104.7 108.1,104.5 108.3,104.4 108.6,104.3 108.9,104.2 109.1,104.1 109.4,103.9 109.7,103.8 109.9,103.7 110.2,103.6 110.4,103.5 110.7,103.4 110.9,103.3 111.2,103.2 111.4,103.1 111.7,103.0 111.9,102.9 112.1,102.8 112.4,102.7 112.6,102.6 112.8,102.5 113.0,102.4 113.3,102.3 113.5,102.2 113.7,102.1 113.9,102.0 114.1,101.9 114.4,101.8 114.6,101.7 114.8,101.7 115.0,101.6 115.2,101.5 115.4,101.4 115.6,101.3 115.8,101.2 116.0,101.1 116.2,101.0 116.4,101.0 116.6,100.9 116.8,100.8 117.0,100.7 117.2,100.6 117.4,100.5 117.5,100.5 117.7,100.4 117.9,100.3 118.1,100.2 118.3,100.2 118.5,100.1 118.6,100.0 118.8,99.9 119.0,99.8 119.2,99.8 119.4,99.7 119.5,99.6 119.7,99.5 119.9,99.5 120.0,99.4 120.2,99.3 120.4,99.2 120.6,99.2 120.7,99.1 120.9,99.0 121.1,98.9 121.2,98.9 121.4,98.8 121.5,98.7 121.7,98.6 121.9,98.6 122.0,98.5 122.2,98.4 122.3,98.4 122.5,98.3 122.7,98.2 122.8,98.1 123.0,98.1 123.1,98.0 123.3,97.9 123.4,97.9 123.6,97.8 123.7,97.7 123.9,97.7 124.0,97.6 124.2,97.5 124.3,97.5 124.5,97.4 124.6,97.3 124.8,97.3 124.9,97.2 125.1,97.1 125.2,97.1 125.4,97.0 125.5,96.9 125.6,96.9 125.8,96.8 125.9,96.7 126.1,96.7 126.2,96.6 126.3,96.5 126.5,96.5 126.6,96.4 126.8,96.4 126.9,96.3 127.0,96.2 127.2,96.2 127.3,96.1 127.4,96.0 127.6,96.0 127.7,95.9 127.8,95.9 128.0,95.8 128.1,95.7 128.2,95.7 128.4,95.6 128.5,95.6 128.6,95.5 128.8,95.4 128.9,95.4 129.0,95.3 129.1,95.3 129.3,95.2 129.4,95.1 129.5,95.1 129.7,95.0 129.8,95.0 129.9,94.9 130.0,94.9 130.2,94.8 130.3,94.7 130.4,94.7 130.5,94.6 130.7,94.6 130.8,94.5 130.9,94.5 131.0,94.4 131.1,94.4 131.3,94.3 131.4,94.2 131.5,94.2 131.6,94.1 131.7,94.1 131.9,94.0 132.0,94.0 132.1,93.9 132.2,93.9 132.3,93.8 132.5,93.8 132.6,93.7 132.7,93.7 132.8,93.6 132.9,93.5 133.0,93.5 133.2,93.4 133.3,93.4 133.4,93.3 133.5,93.3 133.6,93.2 133.7,93.2 133.8,93.1 134.0,93.1 134.1,93.0 134.2,93.0 134.3,92.9 134.4,92.9 134.5,92.8 134.6,92.8 134.7,92.7 134.9,92.7 135.0,92.6 135.1,92.6 135.2,92.5 135.3,92.5 135.4,92.5 135.5,92.4 135.6,92.4 135.7,92.4 135.9,92.3 136.0,92.3 136.1,92.2 136.2,92.2 136.3,92.2 136.4,92.1 136.5,92.1 136.6,92.0 136.7,92.0 136.8,92.0 136.9,91.9 137.0,91.9 137.1,91.9 137.2,91.8 137.4,91.8 137.5,91.7 137.6,91.7 137.7,91.7 137.8,91.6 137.9,91.6 138.0,91.6 138.1,91.5 138.2,91.5 138.3,91.4 138.4,91.4 138.5,91.4 138.6,91.3 138.7,91.3 138.8,91.3 138.9,91.2 139.0,91.2 139.1,91.2 139.2,91.1 139.3,91.1 139.4,91.1 139.5,91.0 139.6,91.0 139.7,90.9 139.8,90.9 139.9,90.9 140.0,90.8 140.1,90.8 140.2,90.8 140.3,90.7 140.4,90.7 140.5,90.7 140.6,90.6 140.7,90.6 140.8,90.6 140.9,90.5 141.0,90.5 141.1,90.4 141.2,90.4 141.3,90.4 141.4,90.3 141.5,90.3 141.6,90.3 141.7,90.2 141.8,90.2 141.9,90.2 142.0,90.1 142.1,90.1 142.2,90.1 142.3,90.0 142.4,90.0 142.5,90.0 142.6,89.9 142.7,89.9 142.8,89.9 142.9,89.8 143.0,89.8 143.1,89.8 143.2,89.7 143.2,89.7 143.3,89.7 143.4,89.6 143.5,89.6 143.6,89.6 143.7,89.5 143.8,89.5 143.9,89.5 144.0,89.4 144.1,89.4 144.2,89.4 144.3,89.3 144.4,89.3 144.5,89.3 144.6,89.2 144.7,89.2 144.8,89.2 144.8,89.1 144.9,89.1 145.0,89.1 145.1,89.0 145.2,89.0 145.3,89.0 145.4,88.9 145.5,88.9 145.6,88.9 145.7,88.8 145.8,88.8 145.9,88.8 146.0,88.7 146.0,88.7 146.1,88.7 146.2,88.6 146.3,88.6 146.4,88.6 146.5,88.5 146.6,88.5 146.7,88.5 146.8,88.4 146.9,88.4 147.0,88.4 147.0,88.3 147.1,88.3 147.2,88.3 147.3,88.3 147.4,88.2 147.5,88.2 147.6,88.2 147.7,88.1 147.8,88.1 147.9,88.1 147.9,88.0 148.0,88.0 148.1,88.0 148.2,87.9 148.3,87.9 148.4,87.9 148.5,87.8 148.6,87.8 148.7,87.8 148.7,87.7 148.8,87.7 148.9,87.7 149.0,87.7 149.1,87.6 149.2,87.6 149.3,87.6 149.4,87.5 149.5,87.5 149.5,87.5 149.6,87.4 149.7,87.4 149.8,87.4 149.9,87.3 150.0,87.3 150.1,87.3 150.2,87.2 150.2,87.2 150.3,87.2 150.4,87.2 150.5,87.1 150.6,87.1 150.7,87.1 150.8,87.0 150.9,87.0 150.9,87.0 151.0,86.9 151.1,86.9 151.2,86.9 151.3,86.8 151.4,86.8 151.5,86.8 151.6,86.8 151.6,86.7 151.7,86.7 151.8,86.7 151.9,86.6 152.0,86.6 152.1,86.6 152.2,86.5 152.2,86.5 152.3,86.5 152.4,86.4 152.5,86.4 152.6,86.4 152.7,86.4 152.8,86.3 152.9,86.3 152.9,86.3 153.0,86.2 153.1,86.2 153.2,86.2 153.3,86.1 153.4,86.1 153.5,86.1 153.5,86.1 153.6,86.0 153.7,86.0 153.8,86.0 153.9,85.9 154.0,85.9 154.0,85.9 154.1,85.8 154.2,85.8 154.3,85.8 154.4,85.7 154.5,85.7 154.6,85.7 154.6,85.7 154.7,85.6 154.8,85.6 154.9,85.6 155.0,85.5 155.1,85.5 155.2,85.5 155.2,85.4 155.3,85.4 155.4,85.4 155.5,85.4 155.6,85.3 155.7,85.3 155.7,85.3 155.8,85.2 155.9,85.2 156.0,85.2 156.1,85.1 156.2,85.1 156.3,85.1 156.3,85.1 156.4,85.0 156.5,85.0 156.6,85.0 156.7,84.9 156.8,84.9 156.8,84.9 156.9,84.8 157.0,84.8 157.1,84.8 157.2,84.8 157.3,84.7 157.4,84.7 157.4,84.7 157.5,84.6 157.6,84.6 157.7,84.6 157.8,84.5 157.9,84.5 157.9,84.5 158.0,84.5 158.1,84.4 158.2,84.4 158.3,84.4 158.4,84.3 158.4,84.3 158.5,84.3 158.6,84.3 158.7,84.2 158.8,84.2 158.9,84.2 159.0,84.1 159.0,84.1 159.1,84.1 159.2,84.0 159.3,84.0 159.4,84.0 159.5,84.0 159.5,83.9 159.6,83.9 159.7,83.9 159.8,83.8 159.9,83.8 160.0,83.8 160.0,83.7 160.1,83.7 160.2,83.7 160.3,83.7 160.4,83.6 160.5,83.6 160.5,83.6 160.6,83.5 160.7,83.5 160.8,83.5 160.9,83.5 161.0,83.4 161.0,83.4 161.1,83.4 161.2,83.3 161.3,83.3 161.4,83.3 161.5,83.3 161.6,83.2 161.6,83.2 161.7,83.2 161.8,83.1 161.9,83.1 162.0,83.1 162.1,83.1 162.1,83.0 162.2,83.0 162.3,83.0 162.4,83.0 162.5,82.9 162.6,82.9 162.6,82.9 162.7,82.8 162.8,82.8 162.9,82.8 163.0,82.8 163.1,82.7 163.2,82.7 163.2,82.7 163.3,82.6 163.4,82.6 163.5,82.6 163.6,82.6 163.7,82.5 163.7,82.5 163.8,82.5 163.9,82.4 164.0,82.4 164.1,82.4 164.2,82.4 164.3,82.3 164.3,82.3 164.4,82.3 164.5,82.2 164.6,82.2 164.7,82.2 164.8,82.1 164.8,82.1 164.9,82.1 165.0,82.1 165.1,82.0 165.2,82.0 165.3,82.0 165.4,81.9 165.4,81.9 165.5,81.9 165.6,81.9 165.7,81.8 165.8,81.8 165.9,81.8 166.0,81.7 166.0,81.7 166.1,81.7 166.2,81.7 166.3,81.6 166.4,81.6 166.5,81.6 166.5,81.5 166.6,81.5 166.7,81.5 166.8,81.5 166.9,81.4 167.0,81.4 167.1,81.4 167.1,81.3 167.2,81.3 167.3,81.3 167.4,81.3 167.5,81.2 167.6,81.2 167.7,81.2 167.8,81.1 167.8,81.1 167.9,81.1 168.0,81.0 168.1,81.0 168.2,81.0 168.3,81.0 168.4,80.9 168.4,80.9 168.5,80.9 168.6,80.8 168.7,80.8 168.8,80.8 168.9,80.8 169.0,80.7 169.1,80.7 169.1,80.7 169.2,80.6 169.3,80.6 169.4,80.6 169.5,80.5 169.6,80.5 169.7,80.5 169.8,80.5 169.8,80.4 169.9,80.4 170.0,80.4 170.1,80.3 170.2,80.3 170.3,80.3 170.4,80.3 170.5,80.2 170.5,80.2 170.6,80.2 170.7,80.1 170.8,80.1 170.9,80.1 171.0,80.0 171.1,80.0 171.2,80.0 171.3,80.0 171.3,79.9 171.4,79.9 171.5,79.9 171.6,79.8 171.7,79.8 171.8,79.8 171.9,79.7 172.0,79.7 172.1,79.7 172.1,79.6 172.2,79.6 172.3,79.6 172.4,79.6 172.5,79.5 172.6,79.5 172.7,79.5 172.8,79.4 172.9,79.4 173.0,79.4 173.0,79.3 173.1,79.3 173.2,79.3 173.3,79.3 173.4,79.2 173.5,79.2 173.6,79.2 173.7,79.1 173.8,79.1 173.9,79.1 174.0,79.0 174.0,79.0 174.1,79.0 174.2,78.9 174.3,78.9 174.4,78.9 174.5,78.8 174.6,78.8 174.7,78.8 174.8,78.8 174.9,78.7 175.0,78.7 175.1,78.7 175.2,78.6 175.2,78.6 175.3,78.6 175.4,78.5 175.5,78.5 175.6,78.5 175.7,78.4 175.8,78.4 175.9,78.4 176.0,78.3 176.1,78.3 176.2,78.3 176.3,78.2 176.4,78.2 176.5,78.2 176.6,78.2 176.7,78.1 176.8,78.1 176.8,78.1 176.9,78.0 177.0,78.0 177.1,78.0 177.2,77.9 177.3,77.9 177.4,77.9 177.5,77.8 177.6,77.8 177.7,77.8 177.8,77.7 177.9,77.7 178.0,77.7 178.1,77.6 178.2,77.6 178.3,77.6 178.4,77.5 178.5,77.5 178.6,77.5 178.7,77.4 178.8,77.4 178.9,77.4 179.0,77.3 179.1,77.3 179.2,77.3 179.3,77.2 179.4,77.2 179.5,77.2 179.6,77.1 179.7,77.1 179.8,77.1 179.9,77.0 180.0,77.0 180.1,77.0 180.2,76.9 180.3,76.9 180.4,76.9 180.5,76.8 180.6,76.8 180.7,76.8 180.8,76.8 180.9,76.7 181.0,76.7 181.1,76.7 181.2,76.6 181.3,76.6 181.4,76.6 181.5,76.6 181.6,76.5 181.7,76.5 181.8,76.5 181.9,76.4 182.0,76.4 182.1,76.4 182.2,76.4 182.3,76.3 182.4,76.3 182.5,76.3 182.6,76.2 182.8,76.2 182.9,76.2 183.0,76.1 183.1,76.1 183.2,76.1 183.3,76.1 183.4,76.0 183.5,76.0 183.6,76.0 183.7,75.9 183.8,75.9 183.9,75.9 184.0,75.8 184.1,75.8 184.3,75.8 184.4,75.8 184.5,75.7 184.6,75.7 184.7,75.7 184.8,75.6 184.9,75.6 185.0,75.6 185.1,75.5 185.3,75.5 185.4,75.5 185.5,75.4 185.6,75.4 185.7,75.4 185.8,75.3 185.9,75.3 186.0,75.3 186.2,75.3 186.3,75.2 186.4,75.2 186.5,75.2 186.6,75.1 186.7,75.1 186.8,75.1 187.0,75.0 187.1,75.0 187.2,75.0 187.3,74.9 187.4,74.9 187.5,74.9 187.7,74.8 187.8,74.8 187.9,74.8 188.0,74.7 188.1,74.7 188.3,74.7 188.4,74.6 188.5,74.6 188.6,74.6 188.7,74.5 188.9,74.5 189.0,74.5 189.1,74.4 189.2,74.4 189.3,74.4 189.5,74.3 189.6,74.3 189.7,74.2 189.8,74.2 190.0,74.2 190.1,74.1 190.2,74.1 190.3,74.1 190.5,74.0 190.6,74.0 190.7,74.0 190.9,73.9 191.0,73.9 191.1,73.9 191.2,73.8 191.4,73.8 191.5,73.7 191.6,73.7 191.8,73.7 191.9,73.6 192.0,73.6 192.2,73.6 192.3,73.5 192.4,73.5 192.6,73.4 192.7,73.4 192.8,73.4 193.0,73.3 193.1,73.3 193.2,73.3 193.4,73.2 193.5,73.2 193.7,73.2 193.8,73.1 193.9,73.1 194.1,73.1 194.2,73.0 194.4,73.0 194.5,73.0 194.6,72.9 194.8,72.9 194.9,72.9 195.1,72.9 195.2,72.8 195.4,72.8 195.5,72.8 195.7,72.7 195.8,72.7 196.0,72.7 196.1,72.6 196.3,72.6 196.4,72.6 196.6,72.5 196.7,72.5 196.9,72.5 197.0,72.4 197.2,72.4 197.3,72.4 197.5,72.3 197.7,72.3 197.8,72.3 198.0,72.2 198.1,72.2 198.3,72.2 198.5,72.1 198.6,72.1 198.8,72.1 198.9,72.0 199.1,72.0 199.3,72.0 199.4,71.9 199.6,71.9 199.8,71.9 200.0,71.8 200.1,71.8 200.3,71.7 200.5,71.7 200.6,71.7 200.8,71.6 201.0,71.6 201.2,71.6 201.4,71.5 201.5,71.5 201.7,71.4 201.9,71.4 202.1,71.4 202.3,71.3 202.5,71.3 202.6,71.3 202.8,71.2 203.0,71.2 203.2,71.1 203.4,71.1 203.6,71.0 203.8,71.0 204.0,71.0 204.2,70.9 204.4,70.9 204.6,70.8 204.8,70.8 205.0,70.7 205.2,70.7 205.4,70.6 205.6,70.6 205.9,70.5 206.1,70.5 206.3,70.4 206.5,70.4 206.7,70.3 207.0,70.2 207.2,70.2 207.4,70.1 207.6,70.1 207.9,70.0 208.1,70.0 208.3,69.9 208.6,69.8 208.8,69.8 209.1,69.7 209.3,69.6 209.6,69.6 209.8,69.5 210.1,69.5 210.3,69.4 210.6,69.3 210.9,69.3 211.1,69.2 211.4,69.1 211.7,69.0 211.9,69.0 212.2,68.9 212.5,68.8 212.8,68.8 213.1,68.7 213.4,68.6 213.7,68.5 214.0,68.4 214.3,68.4 214.6,68.3 214.9,68.2 215.3,68.1 215.6,68.0 215.9,68.0 216.3,67.9 216.6,67.8 217.0,67.7 217.3,67.6 217.7,67.5 218.1,67.4 218.5,67.3 218.8,67.2 219.2,67.1 219.6,67.0 220.1,66.9 220.5,66.8 220.9,66.7 221.4,66.6 221.8,66.5 222.3,66.3 222.8,66.2 223.3,66.1 223.8,66.0 224.3,65.8 224.8,65.7 225.4,65.5 225.9,65.4 226.5,65.2 227.2,65.1 227.8,65.0 228.5,64.9 229.2,64.8 229.9,64.8 230.6,64.7 231.4,64.6 232.3,64.5 233.1,64.3 234.1,64.2 235.1,64.1 236.2,64.0"/><polyline class="p" marker-start="url(#mbs)" marker-mid="url(#mbs)" marker-end="url(#mbs)" points="237.3,63.8 238.6,63.6 240.0,63.5 241.5,63.3 243.2,63.1 245.2,62.8 247.5,62.5 250.3,61.4 254.0,60.8 259.4,60.0 270.2,59.2"/>
<polyline class="p" marker-start="url(#mrs)" marker-mid="url(#mrs)" marker-end="url(#mrs)" points="49.8,122.9 60.6,122.7 66.0,122.7 69.7,118.9 72.5,117.3 74.8,116.4 76.8,115.6 78.5,114.9 80.0,114.1 81.4,113.4 82.7,112.8"/><polyline class="p" marker-start="url(#mrd)" marker-mid="url(#mrd)" marker-end="url(#mrd)" points="83.8,112.2 84.9,111.7 85.9,111.2 86.9,110.7 87.7,110.3 88.6,109.9 89.4,109.5 90.1,109.2 90.8,108.8 91.5,108.5 92.2,108.2 92.8,107.9 93.5,107.6 94.1,107.3 94.6,107.1 95.2,106.8 95.7,106.6 96.2,106.5 96.7,106.3 97.2,106.1 97.7,105.9 98.2,105.8 98.6,105.6 99.1,105.5 99.5,105.3 99.9,105.2 100.4,105.0 100.8,104.9 101.2,104.8 101.5,104.7 101.9,104.6 102.3,104.5 102.7,104.4 103.0,104.3 103.4,104.2 103.7,104.1 104.1,104.0 104.4,103.9 104.7,103.8 105.1,103.7 105.4,103.6 105.7,103.5 106.0,103.4 106.3,103.4 106.6,103.3 106.9,103.2 107.2,103.1 107.5,103.0 107.8,102.9 108.1,102.9 108.3,102.8 108.6,102.7 108.9,102.6 109.1,102.6 109.4,102.5 109.7,102.4 109.9,102.3 110.2,102.3 110.4,102.1 110.7,102.0 110.9,101.9 111.2,101.8 111.4,101.7 111.7,101.6 111.9,101.5 112.1,101.4 112.4,101.3 112.6,101.2 112.8,101.2 113.0,101.1 113.3,101.0 113.5,100.9 113.7,100.8 113.9,100.7 114.1,100.6 114.4,100.5 114.6,100.4 114.8,100.3 115.0,100.3 115.2,100.2 115.4,100.1 115.6,100.0 115.8,99.9 116.0,99.8 116.2,99.7 116.4,99.7 116.6,99.6 116.8,99.5 117.0,99.4 117.2,99.3 117.4,99.3 117.5,99.2 117.7,99.1 117.9,99.0 118.1,99.0 118.3,98.9 118.5,98.8 118.6,98.7 118.8,98.7 119.0,98.6 119.2,98.5 119.4,98.4 119.5,98.4 119.7,98.3 119.9,98.2 120.0,98.1 120.2,98.1 120.4,98.0 120.6,97.9 120.7,97.8 120.9,97.8 121.1,97.7 121.2,97.6 121.4,97.5 121.5,97.5 121.7,97.4 121.9,97.3 122.0,97.2 122.2,97.2 122.3,97.1 122.5,97.0 122.7,96.9 122.8,96.9 123.0,96.8 123.1,96.7 123.3,96.7 123.4,96.6 123.6,96.5 123.7,96.4 123.9,96.4 124.0,96.3 124.2,96.2 124.3,96.2 124.5,96.1 124.6,96.0 124.8,96.0 124.9,95.9 125.1,95.8 125.2,95.8 125.4,95.7 125.5,95.6 125.6,95.6 125.8,95.5 125.9,95.4 126.1,95.4 126.2,95.3 126.3,95.2 126.5,95.2 126.6,95.1 126.8,95.0 126.9,95.0 127.0,94.9 127.2,94.9 127.3,94.8 127.4,94.7 127.6,94.7 127.7,94.6 127.8,94.5 128.0,94.5 128.1,94.4 128.2,94.4 128.4,94.3 128.5,94.2 128.6,94.2 128.8,94.1 128.9,94.1 129.0,94.0 129.1,93.9 129.3,93.9 129.4,93.8 129.5,93.8 129.7,93.7 129.8,93.7 129.9,93.6 130.0,93.5 130.2,93.5 130.3,93.4 130.4,93.4 130.5,93.3 130.7,93.2 130.8,93.2 130.9,93.1 131.0,93.1 131.1,93.0 131.3,93.0 131.4,92.9 131.5,92.9 131.6,92.8 131.7,92.7 131.9,92.7 132.0,92.6 132.1,92.6 132.2,92.5 132.3,92.5 132.5,92.4 132.6,92.4 132.7,92.3 132.8,92.3 132.9,92.2 133.0,92.1 133.2,92.1 133.3,92.0 133.4,92.0 133.5,91.9 133.6,91.9 133.7,91.8 133.8,91.8 134.0,91.7 134.1,91.7 134.2,91.6 134.3,91.6 134.4,91.5 134.5,91.5 134.6,91.4 134.7,91.4 134.9,91.3 135.0,91.3 135.1,91.2 135.2,91.2 135.3,91.2 135.4,91.1 135.5,91.1 135.6,91.0 135.7,91.0 135.9,91.0 136.0,90.9 136.1,90.9 136.2,90.9 136.3,90.8 136.4,90.8 136.5,90.7 136.6,90.7 136.7,90.7 136.8,90.6 136.9,90.6 137.0,90.6 137.1,90.5 137.2,90.5 137.4,90.5 137.5,90.4 137.6,90.4 137.7,90.3 137.8,90.3 137.9,90.3 138.0,90.2 138.1,90.2 138.2,90.2 138.3,90.1 138.4,90.1 138.5,90.1 138.6,90.0 138.7,90.0 138.8,90.0 138.9,89.9 139.0,89.9 139.1,89.9 139.2,89.8 139.3,89.8 139.4,89.7 139.5,89.7 139.6,89.7 139.7,89.6 139.8,89.6 139.9,89.6 140.0,89.5 140.1,89.5 140.2,89.5 140.3,89.4 140.4,89.4 140.5,89.4 140.6,89.3 140.7,89.3 140.8,89.3 140.9,89.2 141.0,89.2 141.1,89.2 141.2,89.1 141.3,89.1 141.4,89.1 141.5,89.0 141.6,89.0 141.7,89.0 141.8,88.9 141.9,88.9 142.0,88.9 142.1,88.8 142.2,88.8 142.3,88.8 142.4,88.7 142.5,88.7 142.6,88.7 142.7,88.6 142.8,88.6 142.9,88.6 143.0,88.5 143.1,88.5 143.2,88.5 143.2,88.4 143.3,88.4 143.4,88.4 143.5,88.3 143.6,88.3 143.7,88.3 143.8,88.2 143.9,88.2 144.0,88.2 144.1,88.1 144.2,88.1 144.3,88.1 144.4,88.1 144.5,88.0 144.6,88.0 144.7,88.0 144.8,87.9 144.8,87.9 144.9,87.9 145.0,87.8 145.1,87.8 145.2,87.8 145.3,87.7 145.4,87.7 145.5,87.7 145.6,87.6 145.7,87.6 145.8,87.6 145.9,87.5 146.0,87.5 146.0,87.5 146.1,87.5 146.2,87.4 146.3,87.4 146.4,87.4 146.5,87.3 146.6,87.3 146.7,87.3 146.8,87.2 146.9,87.2 147.0,87.2 147.0,87.1 147.1,87.1 147.2,87.1 147.3,87.0 147.4,87.0 147.5,87.0 147.6,87.0 147.7,86.9 147.8,86.9 147.9,86.9 147.9,86.8 148.0,86.8 148.1,86.8 148.2,86.7 148.3,86.7 148.4,86.7 148.5,86.6 148.6,86.6 148.7,86.6 148.7,86.6 148.8,86.5 148.9,86.5 149.0,86.5 149.1,86.4 149.2,86.4 149.3,86.4 149.4,86.3 149.5,86.3 149.5,86.3 149.6,86.3 149.7,86.2 149.8,86.2 149.9,86.2 150.0,86.1 150.1,86.1 150.2,86.1 150.2,86.0 150.3,86.0 150.4,86.0 150.5,86.0 150.6,85.9 150.7,85.9 150.8,85.9 150.9,85.8 150.9,85.8 151.0,85.8 151.1,85.7 151.2,85.7 151.3,85.7 151.4,85.7 151.5,85.6 151.6,85.6 151.6,85.6 151.7,85.5 151.8,85.5 151.9,85.5 152.0,85.5 152.1,85.4 152.2,85.4 152.2,85.4 152.3,85.3 152.4,85.3 152.5,85.3 152.6,85.2 152.7,85.2 152.8,85.2 152.9,85.2 152.9,85.1 153.0,85.1 153.1,85.1 153.2,85.0 153.3,85.0 153.4,85.0 153.5,85.0 153.5,84.9 153.6,84.9 153.7,84.9 153.8,84.8 153.9,84.8 154.0,84.8 154.0,84.7 154.1,84.7 154.2,84.7 154.3,84.7 154.4,84.6 154.5,84.6 154.6,84.6 154.6,84.5 154.7,84.5 154.8,84.5 154.9,84.5 155.0,84.4 155.1,84.4 155.2,84.4 155.2,84.3 155.3,84.3 155.4,84.3 155.5,84.3 155.6,84.2 155.7,84.2 155.7,84.2 155.8,84.1 155.9,84.1 156.0,84.1 156.1,84.1 156.2,84.0 156.3,84.0 156.3,84.0 156.4,83.9 156.5,83.9 156.6,83.9 156.7,83.8 156.8,83.8 156.8,83.8 156.9,83.8 157.0,83.7 157.1,83.7 157.2,83.7 157.3,83.6 157.4,83.6 157.4,83.6 157.5,83.6 157.6,83.5 157.7,83.5 157.8,83.5 157.9,83.4 157.9,83.4 158.0,83.4 158.1,83.4 158.2,83.3 158.3,83.3 158.4,83.3 158.4,83.2 158.5,83.2 158.6,83.2 158.7,83.2 158.8,83.1 158.9,83.1 159.0,83.1 159.0,83.0 159.1,83.0 159.2,83.0 159.3,83.0 159.4,82.9 159.5,82.9 159.5,82.9 159.6,82.8 159.7,82.8 159.8,82.8 159.9,82.8 160.0,82.7 160.0,82.7 160.1,82.7 160.2,82.6 160.3,82.6 160.4,82.6 160.5,82.6 160.5,82.5 160.6,82.5 160.7,82.5 160.8,82.5 160.9,82.4 161.0,82.4 161.0,82.4 161.1,82.4 161.2,82.3 161.3,82.3 161.4,82.3 161.5,82.3 161.6,82.2 161.6,82.2 161.7,82.2 161.8,82.1 161.9,82.1 162.0,82.1 162.1,82.1 162.1,82.0 162.2,82.0 162.3,82.0 162.4,82.0 162.5,81.9 162.6,81.9 162.6,81.9 162.7,81.9 162.8,81.8 162.9,81.8 163.0,81.8 163.1,81.8 163.2,81.7 163.2,81.7 163.3,81.7 163.4,81.6 163.5,81.6 163.6,81.6 163.7,81.6 163.7,81.5 163.8,81.5 163.9,81.5 164.0,81.5 164.1,81.4 164.2,81.4 164.3,81.4 164.3,81.4 164.4,81.3 164.5,81.3 164.6,81.3 164.7,81.3 164.8,81.2 164.8,81.2 164.9,81.2 165.0,81.1 165.1,81.1 165.2,81.1 165.3,81.1 165.4,81.0 165.4,81.0 165.5,81.0 165.6,81.0 165.7,80.9 165.8,80.9 165.9,80.9 166.0,80.9 166.0,80.8 166.1,80.8 166.2,80.8 166.3,80.7 166.4,80.7 166.5,80.7 166.5,80.7 166.6,80.6 166.7,80.6 166.8,80.6 166.9,80.6 167.0,80.5 167.1,80.5 167.1,80.5 167.2,80.5 167.3,80.4 167.4,80.4 167.5,80.4 167.6,80.3 167.7,80.3 167.8,80.3 167.8,80.3 167.9,80.2 168.0,80.2 168.1,80.2 168.2,80.2 168.3,80.1 168.4,80.1 168.4,80.1 168.5,80.0 168.6,80.0 168.7,80.0 168.8,80.0 168.9,79.9 169.0,79.9 169.1,79.9 169.1,79.9 169.2,79.8 169.3,79.8 169.4,79.8 169.5,79.7 169.6,79.7 169.7,79.7 169.8,79.7 169.8,79.6 169.9,79.6 170.0,79.6 170.1,79.6 170.2,79.5 170.3,79.5 170.4,79.5 170.5,79.4 170.5,79.4 170.6,79.4 170.7,79.4 170.8,79.3 170.9,79.3 171.0,79.3 171.1,79.3 171.2,79.2 171.3,79.2 171.3,79.2 171.4,79.1 171.5,79.1 171.6,79.1 171.7,79.1 171.8,79.0 171.9,79.0 172.0,79.0 172.1,78.9 172.1,78.9 172.2,78.9 172.3,78.9 172.4,78.8 172.5,78.8 172.6,78.8 172.7,78.8 172.8,78.7 172.9,78.7 173.0,78.7 173.0,78.6 173.1,78.6 173.2,78.6 173.3,78.6 173.4,78.5 173.5,78.5 173.6,78.5 173.7,78.4 173.8,78.4 173.9,78.4 174.0,78.4 174.0,78.3 174.1,78.3 174.2,78.3 174.3,78.2 174.4,78.2 174.5,78.2 174.6,78.2 174.7,78.1 174.8,78.1 174.9,78.1 175.0,78.0 175.1,78.0 175.2,78.0 175.2,77.9 175.3,77.9 175.4,77.9 175.5,77.9 175.6,77.8 175.7,77.8 175.8,77.8 175.9,77.7 176.0,77.7 176.1,77.7 176.2,77.7 176.3,77.6 176.4,77.6 176.5,77.6 176.6,77.5 176.7,77.5 176.8,77.5 176.8,77.4 176.9,77.4 177.0,77.4 177.1,77.4 177.2,77.3 177.3,77.3 177.4,77.3 177.5,77.2 177.6,77.2 177.7,77.2 177.8,77.1 177.9,77.1 178.0,77.1 178.1,77.1 178.2,77.0 178.3,77.0 178.4,77.0 178.5,76.9 178.6,76.9 178.7,76.9 178.8,76.8 178.9,76.8 179.0,76.8 179.1,76.8 179.2,76.7 179.3,76.7 179.4,76.7 179.5,76.6 179.6,76.6 179.7,76.6 179.8,76.5 179.9,76.5 180.0,76.5 180.1,76.4 180.2,76.4 180.3,76.4 180.4,76.3 180.5,76.3 180.6,76.3 180.7,76.3 180.8,76.2 180.9,76.2 181.0,76.2 181.1,76.1 181.2,76.1 181.3,76.1 181.4,76.0 181.5,76.0 181.6,76.0 181.7,75.9 181.8,75.9 181.9,75.9 182.0,75.8 182.1,75.8 182.2,75.8 182.3,75.7 182.4,75.7 182.5,75.7 182.6,75.6 182.8,75.6 182.9,75.6 183.0,75.5 183.1,75.5 183.2,75.5 183.3,75.4 183.4,75.4 183.5,75.4 183.6,75.3 183.7,75.3 183.8,75.3 183.9,75.2 184.0,75.2 184.1,75.2 184.3,75.1 184.4,75.1 184.5,75.1 184.6,75.0 184.7,75.0 184.8,75.0 184.9,74.9 185.0,74.9 185.1,74.9 185.3,74.8 185.4,74.8 185.5,74.8 185.6,74.7 185.7,74.7 185.8,74.6 185.9,74.6 186.0,74.6 186.2,74.5 186.3,74.5 186.4,74.5 186.5,74.4 186.6,74.4 186.7,74.4 186.8,74.3 187.0,74.3 187.1,74.3 187.2,74.2 187.3,74.2 187.4,74.1 187.5,74.1 187.7,74.1 187.8,74.0 187.9,74.0 188.0,74.0 188.1,73.9 188.3,73.9 188.4,73.8 188.5,73.8 188.6,73.8 188.7,73.7 188.9,73.7 189.0,73.7 189.1,73.6 189.2,73.6 189.3,73.5 189.5,73.5 189.6,73.5 189.7,73.4 189.8,73.4 190.0,73.3 190.1,73.3 190.2,73.3 190.3,73.2 190.5,73.2 190.6,73.2 190.7,73.1 190.9,73.1 191.0,73.0 191.1,73.0 191.2,72.9 191.4,72.9 191.5,72.9 191.6,72.8 191.8,72.8 191.9,72.7 192.0,72.7 192.2,72.7 192.3,72.6 192.4,72.6 192.6,72.5 192.7,72.5 192.8,72.5 193.0,72.4 193.1,72.4 193.2,72.3 193.4,72.3 193.5,72.2 193.7,72.2 193.8,72.2 193.9,72.1 194.1,72.1 194.2,72.0 194.4,72.0 194.5,72.0 194.6,71.9 194.8,71.9 194.9,71.8 195.1,71.8 195.2,71.8 195.4,71.7 195.5,71.7 195.7,71.6 195.8,71.6 196.0,71.6 196.1,71.5 196.3,71.5 196.4,71.4 196.6,71.4 196.7,71.4 196.9,71.3 197.0,71.3 197.2,71.2 197.3,71.2 197.5,71.1 197.7,71.1 197.8,71.1 198.0,71.0 198.1,71.0 198.3,70.9 198.5,70.9 198.6,70.8 198.8,70.8 198.9,70.7 199.1,70.7 199.3,70.7 199.4,70.6 199.6,70.6 199.8,70.5 200.0,70.5 200.1,70.4 200.3,70.4 200.5,70.3 200.6,70.3 200.8,70.2 201.0,70.2 201.2,70.1 201.4,70.1 201.5,70.0 201.7,70.0 201.9,69.9 202.1,69.9 202.3,69.8 202.5,69.8 202.6,69.7 202.8,69.7 203.0,69.6 203.2,69.6 203.4,69.5 203.6,69.5 203.8,69.4 204.0,69.4 204.2,69.3 204.4,69.2 204.6,69.2 204.8,69.1 205.0,69.1 205.2,69.0 205.4,69.0 205.6,68.9 205.9,68.8 206.1,68.8 206.3,68.7 206.5,68.7 206.7,68.6 207.0,68.5 207.2,68.5 207.4,68.4 207.6,68.4 207.9,68.3 208.1,68.2 208.3,68.2 208.6,68.1 208.8,68.0 209.1,68.0 209.3,67.9 209.6,67.8 209.8,67.8 210.1,67.7 210.3,67.6 210.6,67.5 210.9,67.5 211.1,67.4 211.4,67.3 211.7,67.2 211.9,67.2 212.2,67.1 212.5,67.0 212.8,66.9 213.1,66.9 213.4,66.8 213.7,66.7 214.0,66.6 214.3,66.5 214.6,66.4 214.9,66.3 215.3,66.3 215.6,66.2 215.9,66.1 216.3,66.0 216.6,65.9 217.0,65.8 217.3,65.7 217.7,65.6 218.1,65.5 218.5,65.4 218.8,65.3 219.2,65.2 219.6,65.1 220.1,64.9 220.5,64.8 220.9,64.7 221.4,64.6 221.8,64.5 222.3,64.3 222.8,64.2 223.3,64.1 223.8,63.9 224.3,63.8 224.8,63.6 225.4,63.5 225.9,63.3 226.5,63.2 227.2,63.0 227.8,62.9 228.5,62.8 229.2,62.6 229.9,62.5 230.6,62.4 231.4,62.2 232.3,62.1 233.1,61.9 234.1,61.8 235.1,61.6 236.2,61.4"/><polyline class="p" marker-start="url(#mrs)" marker-mid="url(#mrs)" marker-end="url(#mrs)" points="237.3,61.2 238.6,61.0 240.0,60.7 241.5,60.4 243.2,60.1 245.2,59.8 247.5,59.2 250.3,58.6 254.0,58.1 259.4,57.1 270.2,48.7"/>
<line x1="41.00" y1="119.59" x2="279.20" y2="45.15" stroke="#000" stroke-width="1.3"/>
<g fill="none"><line x1="40.20" y1="40.9" x2="280.05" y2="40.9" stroke="#a2a2a2" stroke-width="1.8"/><line x1="41.10" y1="40" x2="41.10" y2="249.8" stroke="#9a9a9a" stroke-width="1.8"/><line x1="40.20" y1="248.9" x2="280.05" y2="248.9" stroke="#9a9a9a" stroke-width="1.8"/><line x1="279.50" y1="40" x2="279.50" y2="249.8" stroke="#8a8a8a" stroke-width="1.1"/></g>
<line x1="59.50" y1="248.9" x2="260.50" y2="248.9" stroke="#000" stroke-opacity="0.22" stroke-width="1.6"/>
<line x1="59.50" y1="248.8" x2="59.50" y2="254.4" stroke="#222" stroke-width="1"/>
<text x="59.50" y="267" text-anchor="middle" class="ax">−3</text>
<line x1="93.00" y1="248.8" x2="93.00" y2="254.4" stroke="#222" stroke-width="1"/>
<text x="93.00" y="267" text-anchor="middle" class="ax">−2</text>
<line x1="126.50" y1="248.8" x2="126.50" y2="254.4" stroke="#222" stroke-width="1"/>
<text x="126.50" y="267" text-anchor="middle" class="ax">−1</text>
<line x1="160.00" y1="248.8" x2="160.00" y2="254.4" stroke="#222" stroke-width="1"/>
<text x="160.00" y="267" text-anchor="middle" class="ax">0</text>
<line x1="193.50" y1="248.8" x2="193.50" y2="254.4" stroke="#222" stroke-width="1"/>
<text x="193.50" y="267" text-anchor="middle" class="ax">1</text>
<line x1="227.00" y1="248.8" x2="227.00" y2="254.4" stroke="#222" stroke-width="1"/>
<text x="227.00" y="267" text-anchor="middle" class="ax">2</text>
<line x1="260.50" y1="248.8" x2="260.50" y2="254.4" stroke="#222" stroke-width="1"/>
<text x="260.50" y="267" text-anchor="middle" class="ax">3</text>
<line x1="41.10" y1="82.40" x2="41.10" y2="239.45" stroke="#000" stroke-opacity="0.22" stroke-width="1.6"/>
<line x1="35.40" y1="82.40" x2="41.00" y2="82.40" stroke="#222" stroke-width="1"/>
<text transform="translate(29.00,82.40) rotate(-90)" text-anchor="middle" class="ax">0</text>
<line x1="35.40" y1="134.75" x2="41.00" y2="134.75" stroke="#222" stroke-width="1"/>
<text transform="translate(29.00,134.75) rotate(-90)" text-anchor="middle" class="ax">−5</text>
<line x1="35.40" y1="187.10" x2="41.00" y2="187.10" stroke="#222" stroke-width="1"/>
<text transform="translate(29.00,187.10) rotate(-90)" text-anchor="middle" class="ax">−10</text>
<line x1="35.40" y1="239.45" x2="41.00" y2="239.45" stroke="#222" stroke-width="1"/>
<text transform="translate(29.00,239.45) rotate(-90)" text-anchor="middle" class="ax">−15</text>
<text x="160.00" y="287.2" text-anchor="middle" class="lab">Theoretical Quantiles</text>
<text transform="translate(9.50,145.3) rotate(-90)" text-anchor="middle" class="lab">Sample Quantiles</text>
<text x="160.00" y="23" text-anchor="middle" class="ttl">α</text>
<polyline class="p" marker-start="url(#mys)" marker-mid="url(#mys)" marker-end="url(#mys)" points="349.8,241.5 360.6,218.2 366.0,211.4 369.7,208.6 372.5,208.0 374.8,206.7 376.8,205.7 378.5,198.4 380.0,197.1 381.4,194.9 382.7,192.6"/><polyline class="p" marker-start="url(#myd)" marker-mid="url(#myd)" marker-end="url(#myd)" points="383.8,191.0 384.9,189.5 385.9,187.9 386.9,186.4 387.7,185.6 388.6,184.7 389.4,183.9 390.1,183.1 390.8,182.3 391.5,181.4 392.2,180.6 392.8,180.0 393.5,179.5 394.1,179.0 394.6,178.6 395.2,178.2 395.7,177.8 396.2,177.4 396.7,176.9 397.2,176.4 397.7,175.8 398.2,175.3 398.6,174.8 399.1,174.2 399.5,173.6 399.9,173.1 400.4,172.5 400.8,172.0 401.2,171.5 401.5,171.0 401.9,170.5 402.3,170.0 402.7,169.6 403.0,169.3 403.4,168.9 403.7,168.5 404.1,168.2 404.4,167.8 404.7,167.4 405.1,167.1 405.4,166.8 405.7,166.4 406.0,166.1 406.3,165.8 406.6,165.6 406.9,165.3 407.2,165.1 407.5,164.8 407.8,164.6 408.1,164.4 408.3,164.1 408.6,163.9 408.9,163.7 409.1,163.5 409.4,163.2 409.7,163.0 409.9,162.8 410.2,162.6 410.4,162.4 410.7,162.2 410.9,162.0 411.2,161.8 411.4,161.6 411.7,161.4 411.9,161.2 412.1,161.0 412.4,160.8 412.6,160.6 412.8,160.4 413.0,160.2 413.3,160.0 413.5,159.8 413.7,159.7 413.9,159.5 414.1,159.3 414.4,159.1 414.6,158.9 414.8,158.8 415.0,158.6 415.2,158.4 415.4,158.2 415.6,158.1 415.8,157.9 416.0,157.7 416.2,157.6 416.4,157.4 416.6,157.3 416.8,157.1 417.0,156.9 417.2,156.8 417.4,156.6 417.5,156.5 417.7,156.3 417.9,156.1 418.1,156.0 418.3,155.9 418.5,155.7 418.6,155.6 418.8,155.5 419.0,155.3 419.2,155.2 419.4,155.1 419.5,155.0 419.7,154.8 419.9,154.7 420.0,154.6 420.2,154.5 420.4,154.3 420.6,154.2 420.7,154.1 420.9,154.0 421.1,153.9 421.2,153.7 421.4,153.6 421.5,153.5 421.7,153.4 421.9,153.3 422.0,153.2 422.2,153.0 422.3,152.9 422.5,152.8 422.7,152.7 422.8,152.6 423.0,152.5 423.1,152.4 423.3,152.2 423.4,152.1 423.6,152.0 423.7,151.9 423.9,151.8 424.0,151.7 424.2,151.6 424.3,151.5 424.5,151.4 424.6,151.3 424.8,151.2 424.9,151.1 425.1,151.0 425.2,150.9 425.4,150.8 425.5,150.7 425.6,150.6 425.8,150.5 425.9,150.4 426.1,150.3 426.2,150.2 426.3,150.1 426.5,150.0 426.6,149.9 426.8,149.8 426.9,149.7 427.0,149.6 427.2,149.5 427.3,149.4 427.4,149.3 427.6,149.2 427.7,149.1 427.8,149.0 428.0,148.9 428.1,148.8 428.2,148.7 428.4,148.6 428.5,148.5 428.6,148.4 428.8,148.3 428.9,148.2 429.0,148.1 429.1,148.1 429.3,148.0 429.4,147.9 429.5,147.8 429.7,147.7 429.8,147.6 429.9,147.5 430.0,147.5 430.2,147.4 430.3,147.3 430.4,147.3 430.5,147.2 430.7,147.1 430.8,147.1 430.9,147.0 431.0,146.9 431.1,146.9 431.3,146.8 431.4,146.7 431.5,146.7 431.6,146.6 431.7,146.5 431.9,146.5 432.0,146.4 432.1,146.3 432.2,146.3 432.3,146.2 432.5,146.2 432.6,146.1 432.7,146.0 432.8,146.0 432.9,145.9 433.0,145.8 433.2,145.8 433.3,145.7 433.4,145.7 433.5,145.6 433.6,145.5 433.7,145.5 433.8,145.4 434.0,145.4 434.1,145.3 434.2,145.2 434.3,145.2 434.4,145.1 434.5,145.1 434.6,145.0 434.7,144.9 434.9,144.9 435.0,144.8 435.1,144.8 435.2,144.7 435.3,144.6 435.4,144.6 435.5,144.5 435.6,144.5 435.7,144.4 435.9,144.4 436.0,144.3 436.1,144.2 436.2,144.2 436.3,144.1 436.4,144.1 436.5,144.0 436.6,144.0 436.7,143.9 436.8,143.9 436.9,143.8 437.0,143.8 437.1,143.7 437.2,143.7 437.4,143.6 437.5,143.6 437.6,143.6 437.7,143.5 437.8,143.5 437.9,143.4 438.0,143.4 438.1,143.3 438.2,143.3 438.3,143.2 438.4,143.2 438.5,143.1 438.6,143.1 438.7,143.1 438.8,143.0 438.9,143.0 439.0,142.9 439.1,142.9 439.2,142.8 439.3,142.8 439.4,142.8 439.5,142.7 439.6,142.7 439.7,142.6 439.8,142.6 439.9,142.5 440.0,142.5 440.1,142.5 440.2,142.4 440.3,142.4 440.4,142.3 440.5,142.3 440.6,142.2 440.7,142.2 440.8,142.2 440.9,142.1 441.0,142.1 441.1,142.0 441.2,142.0 441.3,141.9 441.4,141.9 441.5,141.9 441.6,141.8 441.7,141.8 441.8,141.7 441.9,141.7 442.0,141.7 442.1,141.6 442.2,141.6 442.3,141.5 442.4,141.5 442.5,141.4 442.6,141.4 442.7,141.4 442.8,141.3 442.9,141.3 443.0,141.2 443.1,141.2 443.2,141.2 443.2,141.1 443.3,141.1 443.4,141.0 443.5,141.0 443.6,141.0 443.7,140.9 443.8,140.9 443.9,140.8 444.0,140.8 444.1,140.8 444.2,140.7 444.3,140.7 444.4,140.6 444.5,140.6 444.6,140.6 444.7,140.5 444.8,140.5 444.8,140.4 444.9,140.4 445.0,140.4 445.1,140.3 445.2,140.3 445.3,140.2 445.4,140.2 445.5,140.2 445.6,140.1 445.7,140.1 445.8,140.0 445.9,140.0 446.0,140.0 446.0,139.9 446.1,139.9 446.2,139.8 446.3,139.8 446.4,139.8 446.5,139.7 446.6,139.7 446.7,139.6 446.8,139.6 446.9,139.6 447.0,139.5 447.0,139.5 447.1,139.5 447.2,139.4 447.3,139.4 447.4,139.4 447.5,139.3 447.6,139.3 447.7,139.2 447.8,139.2 447.9,139.2 447.9,139.1 448.0,139.1 448.1,139.1 448.2,139.0 448.3,139.0 448.4,139.0 448.5,138.9 448.6,138.9 448.7,138.9 448.7,138.8 448.8,138.8 448.9,138.7 449.0,138.7 449.1,138.7 449.2,138.6 449.3,138.6 449.4,138.6 449.5,138.5 449.5,138.5 449.6,138.5 449.7,138.4 449.8,138.4 449.9,138.4 450.0,138.3 450.1,138.3 450.2,138.3 450.2,138.2 450.3,138.2 450.4,138.1 450.5,138.1 450.6,138.1 450.7,138.0 450.8,138.0 450.9,138.0 450.9,137.9 451.0,137.9 451.1,137.9 451.2,137.8 451.3,137.8 451.4,137.8 451.5,137.7 451.6,137.7 451.6,137.7 451.7,137.6 451.8,137.6 451.9,137.6 452.0,137.5 452.1,137.5 452.2,137.4 452.2,137.4 452.3,137.4 452.4,137.3 452.5,137.3 452.6,137.3 452.7,137.2 452.8,137.2 452.9,137.2 452.9,137.1 453.0,137.1 453.1,137.1 453.2,137.0 453.3,137.0 453.4,137.0 453.5,136.9 453.5,136.9 453.6,136.9 453.7,136.8 453.8,136.8 453.9,136.8 454.0,136.7 454.0,136.7 454.1,136.7 454.2,136.6 454.3,136.6 454.4,136.6 454.5,136.5 454.6,136.5 454.6,136.4 454.7,136.4 454.8,136.4 454.9,136.3 455.0,136.3 455.1,136.3 455.2,136.2 455.2,136.2 455.3,136.2 455.4,136.1 455.5,136.1 455.6,136.1 455.7,136.0 455.7,136.0 455.8,136.0 455.9,135.9 456.0,135.9 456.1,135.9 456.2,135.8 456.3,135.8 456.3,135.8 456.4,135.7 456.5,135.7 456.6,135.7 456.7,135.6 456.8,135.6 456.8,135.6 456.9,135.5 457.0,135.5 457.1,135.5 457.2,135.4 457.3,135.4 457.4,135.4 457.4,135.3 457.5,135.3 457.6,135.3 457.7,135.2 457.8,135.2 457.9,135.2 457.9,135.1 458.0,135.1 458.1,135.1 458.2,135.0 458.3,135.0 458.4,135.0 458.4,134.9 458.5,134.9 458.6,134.9 458.7,134.8 458.8,134.8 458.9,134.8 459.0,134.7 459.0,134.7 459.1,134.7 459.2,134.6 459.3,134.6 459.4,134.6 459.5,134.5 459.5,134.5 459.6,134.5 459.7,134.4 459.8,134.4 459.9,134.4 460.0,134.3 460.0,134.3 460.1,134.3 460.2,134.2 460.3,134.2 460.4,134.2 460.5,134.1 460.5,134.1 460.6,134.1 460.7,134.0 460.8,134.0 460.9,134.0 461.0,133.9 461.0,133.9 461.1,133.9 461.2,133.8 461.3,133.8 461.4,133.8 461.5,133.7 461.6,133.7 461.6,133.7 461.7,133.6 461.8,133.6 461.9,133.6 462.0,133.5 462.1,133.5 462.1,133.5 462.2,133.4 462.3,133.4 462.4,133.4 462.5,133.3 462.6,133.3 462.6,133.3 462.7,133.2 462.8,133.2 462.9,133.2 463.0,133.1 463.1,133.1 463.2,133.1 463.2,133.0 463.3,133.0 463.4,133.0 463.5,132.9 463.6,132.9 463.7,132.9 463.7,132.8 463.8,132.8 463.9,132.8 464.0,132.7 464.1,132.7 464.2,132.7 464.3,132.6 464.3,132.6 464.4,132.6 464.5,132.5 464.6,132.5 464.7,132.4 464.8,132.4 464.8,132.4 464.9,132.3 465.0,132.3 465.1,132.3 465.2,132.2 465.3,132.2 465.4,132.2 465.4,132.1 465.5,132.1 465.6,132.1 465.7,132.0 465.8,132.0 465.9,132.0 466.0,131.9 466.0,131.9 466.1,131.9 466.2,131.8 466.3,131.8 466.4,131.8 466.5,131.7 466.5,131.7 466.6,131.7 466.7,131.6 466.8,131.6 466.9,131.6 467.0,131.5 467.1,131.5 467.1,131.5 467.2,131.4 467.3,131.4 467.4,131.4 467.5,131.3 467.6,131.3 467.7,131.3 467.8,131.2 467.8,131.2 467.9,131.2 468.0,131.1 468.1,131.1 468.2,131.1 468.3,131.0 468.4,131.0 468.4,131.0 468.5,130.9 468.6,130.9 468.7,130.9 468.8,130.8 468.9,130.8 469.0,130.8 469.1,130.7 469.1,130.7 469.2,130.6 469.3,130.6 469.4,130.6 469.5,130.5 469.6,130.5 469.7,130.5 469.8,130.4 469.8,130.4 469.9,130.4 470.0,130.3 470.1,130.3 470.2,130.3 470.3,130.2 470.4,130.2 470.5,130.2 470.5,130.1 470.6,130.1 470.7,130.1 470.8,130.0 470.9,130.0 471.0,130.0 471.1,129.9 471.2,129.9 471.3,129.8 471.3,129.8 471.4,129.8 471.5,129.7 471.6,129.7 471.7,129.7 471.8,129.6 471.9,129.6 472.0,129.6 472.1,129.5 472.1,129.5 472.2,129.5 472.3,129.4 472.4,129.4 472.5,129.4 472.6,129.3 472.7,129.3 472.8,129.2 472.9,129.2 473.0,129.2 473.0,129.1 473.1,129.1 473.2,129.1 473.3,129.0 473.4,129.0 473.5,129.0 473.6,128.9 473.7,128.9 473.8,128.8 473.9,128.8 474.0,128.8 474.0,128.7 474.1,128.7 474.2,128.7 474.3,128.6 474.4,128.6 474.5,128.6 474.6,128.5 474.7,128.5 474.8,128.4 474.9,128.4 475.0,128.4 475.1,128.3 475.2,128.3 475.2,128.3 475.3,128.2 475.4,128.2 475.5,128.2 475.6,128.1 475.7,128.1 475.8,128.0 475.9,128.0 476.0,128.0 476.1,127.9 476.2,127.9 476.3,127.9 476.4,127.8 476.5,127.8 476.6,127.7 476.7,127.7 476.8,127.7 476.8,127.6 476.9,127.6 477.0,127.6 477.1,127.5 477.2,127.5 477.3,127.4 477.4,127.4 477.5,127.4 477.6,127.3 477.7,127.3 477.8,127.3 477.9,127.2 478.0,127.2 478.1,127.1 478.2,127.1 478.3,127.1 478.4,127.0 478.5,127.0 478.6,126.9 478.7,126.9 478.8,126.9 478.9,126.8 479.0,126.8 479.1,126.7 479.2,126.7 479.3,126.7 479.4,126.6 479.5,126.6 479.6,126.6 479.7,126.5 479.8,126.5 479.9,126.4 480.0,126.4 480.1,126.4 480.2,126.3 480.3,126.3 480.4,126.2 480.5,126.2 480.6,126.2 480.7,126.1 480.8,126.1 480.9,126.0 481.0,126.0 481.1,126.0 481.2,125.9 481.3,125.9 481.4,125.8 481.5,125.8 481.6,125.8 481.7,125.7 481.8,125.7 481.9,125.6 482.0,125.6 482.1,125.5 482.2,125.5 482.3,125.5 482.4,125.4 482.5,125.4 482.6,125.3 482.8,125.3 482.9,125.3 483.0,125.2 483.1,125.2 483.2,125.1 483.3,125.1 483.4,125.0 483.5,125.0 483.6,125.0 483.7,124.9 483.8,124.9 483.9,124.8 484.0,124.8 484.1,124.7 484.3,124.7 484.4,124.6 484.5,124.6 484.6,124.5 484.7,124.5 484.8,124.4 484.9,124.4 485.0,124.4 485.1,124.3 485.3,124.3 485.4,124.2 485.5,124.2 485.6,124.1 485.7,124.1 485.8,124.0 485.9,124.0 486.0,123.9 486.2,123.9 486.3,123.8 486.4,123.8 486.5,123.7 486.6,123.7 486.7,123.6 486.8,123.6 487.0,123.5 487.1,123.5 487.2,123.4 487.3,123.4 487.4,123.3 487.5,123.3 487.7,123.2 487.8,123.2 487.9,123.1 488.0,123.1 488.1,123.0 488.3,123.0 488.4,122.9 488.5,122.9 488.6,122.8 488.7,122.8 488.9,122.7 489.0,122.7 489.1,122.6 489.2,122.6 489.3,122.5 489.5,122.5 489.6,122.4 489.7,122.4 489.8,122.3 490.0,122.3 490.1,122.2 490.2,122.2 490.3,122.1 490.5,122.1 490.6,122.0 490.7,122.0 490.9,121.9 491.0,121.9 491.1,121.8 491.2,121.8 491.4,121.7 491.5,121.7 491.6,121.6 491.8,121.6 491.9,121.6 492.0,121.5 492.2,121.5 492.3,121.4 492.4,121.4 492.6,121.3 492.7,121.3 492.8,121.2 493.0,121.2 493.1,121.1 493.2,121.1 493.4,121.0 493.5,121.0 493.7,120.9 493.8,120.9 493.9,120.8 494.1,120.7 494.2,120.7 494.4,120.6 494.5,120.6 494.6,120.5 494.8,120.5 494.9,120.4 495.1,120.4 495.2,120.3 495.4,120.3 495.5,120.2 495.7,120.2 495.8,120.1 496.0,120.1 496.1,120.0 496.3,119.9 496.4,119.9 496.6,119.8 496.7,119.8 496.9,119.7 497.0,119.6 497.2,119.5 497.3,119.4 497.5,119.3 497.7,119.2 497.8,119.1 498.0,119.0 498.1,118.9 498.3,118.8 498.5,118.7 498.6,118.6 498.8,118.5 498.9,118.4 499.1,118.3 499.3,118.2 499.4,118.1 499.6,118.0 499.8,117.9 500.0,117.8 500.1,117.7 500.3,117.6 500.5,117.5 500.6,117.4 500.8,117.2 501.0,117.1 501.2,117.0 501.4,116.9 501.5,116.8 501.7,116.7 501.9,116.6 502.1,116.5 502.3,116.4 502.5,116.2 502.6,116.1 502.8,116.0 503.0,115.9 503.2,115.8 503.4,115.6 503.6,115.4 503.8,115.3 504.0,115.1 504.2,114.9 504.4,114.7 504.6,114.6 504.8,114.4 505.0,114.2 505.2,114.0 505.4,113.9 505.6,113.7 505.9,113.5 506.1,113.3 506.3,113.1 506.5,112.9 506.7,112.7 507.0,112.6 507.2,112.4 507.4,112.2 507.6,112.0 507.9,111.8 508.1,111.6 508.3,111.4 508.6,111.2 508.8,110.9 509.1,110.7 509.3,110.5 509.6,110.3 509.8,110.1 510.1,109.9 510.3,109.7 510.6,109.5 510.9,109.4 511.1,109.2 511.4,109.0 511.7,108.8 511.9,108.6 512.2,108.4 512.5,108.2 512.8,108.0 513.1,107.8 513.4,107.6 513.7,107.4 514.0,107.2 514.3,106.9 514.6,106.7 514.9,106.5 515.3,106.3 515.6,106.0 515.9,105.8 516.3,105.6 516.6,105.3 517.0,105.0 517.3,104.7 517.7,104.5 518.1,104.2 518.5,103.8 518.8,103.5 519.2,103.2 519.6,102.9 520.1,102.6 520.5,102.2 520.9,101.9 521.4,101.5 521.8,101.2 522.3,100.8 522.8,100.4 523.3,100.0 523.8,99.4 524.3,98.7 524.8,98.1 525.4,97.4 525.9,96.6 526.5,95.9 527.2,95.1 527.8,94.1 528.5,93.1 529.2,92.0 529.9,90.8 530.6,90.1 531.4,89.5 532.3,88.8 533.1,87.8 534.1,86.6 535.1,85.3 536.2,84.4"/><polyline class="p" marker-start="url(#mys)" marker-mid="url(#mys)" marker-end="url(#mys)" points="537.3,83.6 538.6,82.8 540.0,81.9 541.5,80.5 543.2,78.8 545.2,78.8 547.5,77.9 550.3,76.4 554.0,74.0 559.4,69.3 570.2,49.0"/>
<polyline class="p" marker-start="url(#mgs)" marker-mid="url(#mgs)" marker-end="url(#mgs)" points="349.8,202.3 360.6,183.7 366.0,181.6 369.7,177.9 372.5,175.3 374.8,174.2 376.8,173.6 378.5,173.1 380.0,172.5 381.4,172.0 382.7,171.5"/><polyline class="p" marker-start="url(#mgd)" marker-mid="url(#mgd)" marker-end="url(#mgd)" points="383.8,170.8 384.9,170.1 385.9,169.5 386.9,169.0 387.7,168.4 388.6,167.9 389.4,167.5 390.1,167.0 390.8,166.6 391.5,166.2 392.2,165.8 392.8,165.4 393.5,165.0 394.1,164.7 394.6,164.3 395.2,164.0 395.7,163.7 396.2,163.3 396.7,163.0 397.2,162.8 397.7,162.5 398.2,162.3 398.6,162.1 399.1,161.9 399.5,161.6 399.9,161.4 400.4,161.2 400.8,161.0 401.2,160.8 401.5,160.6 401.9,160.4 402.3,160.2 402.7,160.0 403.0,159.8 403.4,159.7 403.7,159.5 404.1,159.3 404.4,159.1 404.7,159.0 405.1,158.8 405.4,158.6 405.7,158.5 406.0,158.3 406.3,158.2 406.6,158.0 406.9,157.9 407.2,157.7 407.5,157.6 407.8,157.4 408.1,157.3 408.3,157.1 408.6,157.0 408.9,156.9 409.1,156.7 409.4,156.6 409.7,156.5 409.9,156.3 410.2,156.2 410.4,156.1 410.7,156.0 410.9,155.9 411.2,155.7 411.4,155.6 411.7,155.5 411.9,155.4 412.1,155.3 412.4,155.2 412.6,155.1 412.8,155.0 413.0,154.9 413.3,154.8 413.5,154.7 413.7,154.6 413.9,154.5 414.1,154.4 414.4,154.3 414.6,154.2 414.8,154.1 415.0,154.0 415.2,153.9 415.4,153.8 415.6,153.7 415.8,153.6 416.0,153.5 416.2,153.5 416.4,153.4 416.6,153.3 416.8,153.2 417.0,153.1 417.2,153.0 417.4,152.9 417.5,152.8 417.7,152.8 417.9,152.7 418.1,152.6 418.3,152.5 418.5,152.4 418.6,152.3 418.8,152.3 419.0,152.2 419.2,152.1 419.4,152.0 419.5,151.9 419.7,151.9 419.9,151.8 420.0,151.7 420.2,151.6 420.4,151.5 420.6,151.5 420.7,151.4 420.9,151.3 421.1,151.2 421.2,151.2 421.4,151.1 421.5,151.0 421.7,150.9 421.9,150.9 422.0,150.8 422.2,150.7 422.3,150.7 422.5,150.6 422.7,150.5 422.8,150.4 423.0,150.4 423.1,150.3 423.3,150.2 423.4,150.2 423.6,150.1 423.7,150.0 423.9,149.9 424.0,149.9 424.2,149.8 424.3,149.7 424.5,149.7 424.6,149.6 424.8,149.5 424.9,149.5 425.1,149.4 425.2,149.3 425.4,149.3 425.5,149.2 425.6,149.1 425.8,149.1 425.9,149.0 426.1,148.9 426.2,148.9 426.3,148.8 426.5,148.7 426.6,148.7 426.8,148.6 426.9,148.5 427.0,148.5 427.2,148.4 427.3,148.3 427.4,148.3 427.6,148.2 427.7,148.1 427.8,148.1 428.0,148.0 428.1,148.0 428.2,147.9 428.4,147.8 428.5,147.8 428.6,147.7 428.8,147.7 428.9,147.6 429.0,147.5 429.1,147.5 429.3,147.4 429.4,147.3 429.5,147.3 429.7,147.2 429.8,147.2 429.9,147.1 430.0,147.1 430.2,147.0 430.3,146.9 430.4,146.9 430.5,146.8 430.7,146.8 430.8,146.7 430.9,146.6 431.0,146.6 431.1,146.5 431.3,146.5 431.4,146.4 431.5,146.4 431.6,146.3 431.7,146.2 431.9,146.2 432.0,146.1 432.1,146.1 432.2,146.0 432.3,146.0 432.5,145.9 432.6,145.9 432.7,145.8 432.8,145.7 432.9,145.7 433.0,145.6 433.2,145.6 433.3,145.5 433.4,145.5 433.5,145.4 433.6,145.4 433.7,145.3 433.8,145.3 434.0,145.2 434.1,145.1 434.2,145.1 434.3,145.0 434.4,145.0 434.5,144.9 434.6,144.9 434.7,144.8 434.9,144.8 435.0,144.7 435.1,144.7 435.2,144.6 435.3,144.6 435.4,144.5 435.5,144.5 435.6,144.4 435.7,144.4 435.9,144.3 436.0,144.3 436.1,144.2 436.2,144.2 436.3,144.1 436.4,144.1 436.5,144.0 436.6,144.0 436.7,143.9 436.8,143.9 436.9,143.8 437.0,143.8 437.1,143.7 437.2,143.7 437.4,143.7 437.5,143.6 437.6,143.6 437.7,143.5 437.8,143.5 437.9,143.4 438.0,143.4 438.1,143.4 438.2,143.3 438.3,143.3 438.4,143.2 438.5,143.2 438.6,143.1 438.7,143.1 438.8,143.1 438.9,143.0 439.0,143.0 439.1,142.9 439.2,142.9 439.3,142.8 439.4,142.8 439.5,142.8 439.6,142.7 439.7,142.7 439.8,142.6 439.9,142.6 440.0,142.5 440.1,142.5 440.2,142.5 440.3,142.4 440.4,142.4 440.5,142.3 440.6,142.3 440.7,142.3 440.8,142.2 440.9,142.2 441.0,142.1 441.1,142.1 441.2,142.1 441.3,142.0 441.4,142.0 441.5,141.9 441.6,141.9 441.7,141.9 441.8,141.8 441.9,141.8 442.0,141.7 442.1,141.7 442.2,141.7 442.3,141.6 442.4,141.6 442.5,141.5 442.6,141.5 442.7,141.5 442.8,141.4 442.9,141.4 443.0,141.3 443.1,141.3 443.2,141.3 443.2,141.2 443.3,141.2 443.4,141.1 443.5,141.1 443.6,141.1 443.7,141.0 443.8,141.0 443.9,140.9 444.0,140.9 444.1,140.9 444.2,140.8 444.3,140.8 444.4,140.8 444.5,140.7 444.6,140.7 444.7,140.6 444.8,140.6 444.8,140.6 444.9,140.5 445.0,140.5 445.1,140.4 445.2,140.4 445.3,140.4 445.4,140.3 445.5,140.3 445.6,140.3 445.7,140.2 445.8,140.2 445.9,140.1 446.0,140.1 446.0,140.1 446.1,140.0 446.2,140.0 446.3,139.9 446.4,139.9 446.5,139.9 446.6,139.8 446.7,139.8 446.8,139.8 446.9,139.7 447.0,139.7 447.0,139.6 447.1,139.6 447.2,139.6 447.3,139.5 447.4,139.5 447.5,139.5 447.6,139.4 447.7,139.4 447.8,139.4 447.9,139.3 447.9,139.3 448.0,139.2 448.1,139.2 448.2,139.2 448.3,139.1 448.4,139.1 448.5,139.1 448.6,139.0 448.7,139.0 448.7,138.9 448.8,138.9 448.9,138.9 449.0,138.8 449.1,138.8 449.2,138.8 449.3,138.7 449.4,138.7 449.5,138.7 449.5,138.6 449.6,138.6 449.7,138.5 449.8,138.5 449.9,138.5 450.0,138.4 450.1,138.4 450.2,138.4 450.2,138.3 450.3,138.3 450.4,138.3 450.5,138.2 450.6,138.2 450.7,138.1 450.8,138.1 450.9,138.1 450.9,138.0 451.0,138.0 451.1,138.0 451.2,137.9 451.3,137.9 451.4,137.9 451.5,137.8 451.6,137.8 451.6,137.8 451.7,137.7 451.8,137.7 451.9,137.6 452.0,137.6 452.1,137.6 452.2,137.5 452.2,137.5 452.3,137.5 452.4,137.4 452.5,137.4 452.6,137.4 452.7,137.3 452.8,137.3 452.9,137.3 452.9,137.2 453.0,137.2 453.1,137.1 453.2,137.1 453.3,137.1 453.4,137.0 453.5,137.0 453.5,137.0 453.6,136.9 453.7,136.9 453.8,136.9 453.9,136.8 454.0,136.8 454.0,136.8 454.1,136.7 454.2,136.7 454.3,136.7 454.4,136.6 454.5,136.6 454.6,136.5 454.6,136.5 454.7,136.5 454.8,136.4 454.9,136.4 455.0,136.4 455.1,136.3 455.2,136.3 455.2,136.3 455.3,136.2 455.4,136.2 455.5,136.2 455.6,136.1 455.7,136.1 455.7,136.1 455.8,136.0 455.9,136.0 456.0,136.0 456.1,135.9 456.2,135.9 456.3,135.8 456.3,135.8 456.4,135.8 456.5,135.7 456.6,135.7 456.7,135.7 456.8,135.6 456.8,135.6 456.9,135.6 457.0,135.5 457.1,135.5 457.2,135.5 457.3,135.4 457.4,135.4 457.4,135.4 457.5,135.3 457.6,135.3 457.7,135.3 457.8,135.2 457.9,135.2 457.9,135.2 458.0,135.1 458.1,135.1 458.2,135.0 458.3,135.0 458.4,135.0 458.4,134.9 458.5,134.9 458.6,134.9 458.7,134.8 458.8,134.8 458.9,134.8 459.0,134.7 459.0,134.7 459.1,134.7 459.2,134.6 459.3,134.6 459.4,134.6 459.5,134.5 459.5,134.5 459.6,134.5 459.7,134.4 459.8,134.4 459.9,134.4 460.0,134.3 460.0,134.3 460.1,134.2 460.2,134.2 460.3,134.2 460.4,134.1 460.5,134.1 460.5,134.1 460.6,134.0 460.7,134.0 460.8,134.0 460.9,133.9 461.0,133.9 461.0,133.9 461.1,133.8 461.2,133.8 461.3,133.8 461.4,133.7 461.5,133.7 461.6,133.7 461.6,133.6 461.7,133.6 461.8,133.6 461.9,133.5 462.0,133.5 462.1,133.5 462.1,133.4 462.2,133.4 462.3,133.4 462.4,133.3 462.5,133.3 462.6,133.3 462.6,133.2 462.7,133.2 462.8,133.2 462.9,133.1 463.0,133.1 463.1,133.1 463.2,133.0 463.2,133.0 463.3,133.0 463.4,132.9 463.5,132.9 463.6,132.9 463.7,132.8 463.7,132.8 463.8,132.8 463.9,132.7 464.0,132.7 464.1,132.7 464.2,132.6 464.3,132.6 464.3,132.6 464.4,132.5 464.5,132.5 464.6,132.5 464.7,132.4 464.8,132.4 464.8,132.4 464.9,132.3 465.0,132.3 465.1,132.3 465.2,132.2 465.3,132.2 465.4,132.2 465.4,132.1 465.5,132.1 465.6,132.0 465.7,132.0 465.8,132.0 465.9,131.9 466.0,131.9 466.0,131.9 466.1,131.8 466.2,131.8 466.3,131.8 466.4,131.7 466.5,131.7 466.5,131.7 466.6,131.6 466.7,131.6 466.8,131.6 466.9,131.5 467.0,131.5 467.1,131.5 467.1,131.4 467.2,131.4 467.3,131.4 467.4,131.3 467.5,131.3 467.6,131.3 467.7,131.2 467.8,131.2 467.8,131.2 467.9,131.1 468.0,131.1 468.1,131.0 468.2,131.0 468.3,131.0 468.4,130.9 468.4,130.9 468.5,130.9 468.6,130.8 468.7,130.8 468.8,130.8 468.9,130.7 469.0,130.7 469.1,130.7 469.1,130.6 469.2,130.6 469.3,130.6 469.4,130.5 469.5,130.5 469.6,130.5 469.7,130.4 469.8,130.4 469.8,130.3 469.9,130.3 470.0,130.3 470.1,130.2 470.2,130.2 470.3,130.2 470.4,130.1 470.5,130.1 470.5,130.1 470.6,130.0 470.7,130.0 470.8,130.0 470.9,129.9 471.0,129.9 471.1,129.9 471.2,129.8 471.3,129.8 471.3,129.7 471.4,129.7 471.5,129.7 471.6,129.6 471.7,129.6 471.8,129.6 471.9,129.5 472.0,129.5 472.1,129.5 472.1,129.4 472.2,129.4 472.3,129.4 472.4,129.3 472.5,129.3 472.6,129.2 472.7,129.2 472.8,129.2 472.9,129.1 473.0,129.1 473.0,129.1 473.1,129.0 473.2,129.0 473.3,129.0 473.4,128.9 473.5,128.9 473.6,128.8 473.7,128.8 473.8,128.8 473.9,128.7 474.0,128.7 474.0,128.7 474.1,128.6 474.2,128.6 474.3,128.5 474.4,128.5 474.5,128.5 474.6,128.4 474.7,128.4 474.8,128.4 474.9,128.3 475.0,128.3 475.1,128.3 475.2,128.2 475.2,128.2 475.3,128.1 475.4,128.1 475.5,128.1 475.6,128.0 475.7,128.0 475.8,128.0 475.9,127.9 476.0,127.9 476.1,127.8 476.2,127.8 476.3,127.8 476.4,127.7 476.5,127.7 476.6,127.6 476.7,127.6 476.8,127.6 476.8,127.5 476.9,127.5 477.0,127.5 477.1,127.4 477.2,127.4 477.3,127.3 477.4,127.3 477.5,127.3 477.6,127.2 477.7,127.2 477.8,127.1 477.9,127.1 478.0,127.1 478.1,127.0 478.2,127.0 478.3,127.0 478.4,126.9 478.5,126.9 478.6,126.8 478.7,126.8 478.8,126.8 478.9,126.7 479.0,126.7 479.1,126.6 479.2,126.6 479.3,126.6 479.4,126.5 479.5,126.5 479.6,126.4 479.7,126.4 479.8,126.4 479.9,126.3 480.0,126.3 480.1,126.2 480.2,126.2 480.3,126.2 480.4,126.1 480.5,126.1 480.6,126.0 480.7,126.0 480.8,126.0 480.9,125.9 481.0,125.9 481.1,125.8 481.2,125.8 481.3,125.8 481.4,125.7 481.5,125.7 481.6,125.6 481.7,125.6 481.8,125.5 481.9,125.5 482.0,125.5 482.1,125.4 482.2,125.4 482.3,125.3 482.4,125.3 482.5,125.2 482.6,125.2 482.8,125.2 482.9,125.1 483.0,125.1 483.1,125.0 483.2,125.0 483.3,125.0 483.4,124.9 483.5,124.9 483.6,124.8 483.7,124.8 483.8,124.7 483.9,124.7 484.0,124.6 484.1,124.6 484.3,124.6 484.4,124.5 484.5,124.5 484.6,124.4 484.7,124.4 484.8,124.3 484.9,124.3 485.0,124.3 485.1,124.2 485.3,124.2 485.4,124.1 485.5,124.1 485.6,124.0 485.7,124.0 485.8,123.9 485.9,123.9 486.0,123.8 486.2,123.8 486.3,123.8 486.4,123.7 486.5,123.7 486.6,123.6 486.7,123.6 486.8,123.5 487.0,123.5 487.1,123.4 487.2,123.4 487.3,123.3 487.4,123.3 487.5,123.2 487.7,123.2 487.8,123.1 487.9,123.1 488.0,123.0 488.1,123.0 488.3,122.9 488.4,122.8 488.5,122.8 488.6,122.7 488.7,122.7 488.9,122.6 489.0,122.6 489.1,122.5 489.2,122.5 489.3,122.4 489.5,122.4 489.6,122.3 489.7,122.3 489.8,122.2 490.0,122.1 490.1,122.1 490.2,122.0 490.3,122.0 490.5,121.9 490.6,121.9 490.7,121.8 490.9,121.7 491.0,121.7 491.1,121.6 491.2,121.6 491.4,121.5 491.5,121.5 491.6,121.4 491.8,121.3 491.9,121.3 492.0,121.2 492.2,121.2 492.3,121.1 492.4,121.1 492.6,121.0 492.7,120.9 492.8,120.9 493.0,120.8 493.1,120.8 493.2,120.7 493.4,120.6 493.5,120.6 493.7,120.5 493.8,120.5 493.9,120.4 494.1,120.3 494.2,120.3 494.4,120.2 494.5,120.2 494.6,120.1 494.8,120.0 494.9,120.0 495.1,119.9 495.2,119.8 495.4,119.8 495.5,119.7 495.7,119.7 495.8,119.6 496.0,119.5 496.1,119.5 496.3,119.4 496.4,119.3 496.6,119.3 496.7,119.2 496.9,119.1 497.0,119.1 497.2,119.0 497.3,118.9 497.5,118.9 497.7,118.8 497.8,118.7 498.0,118.7 498.1,118.6 498.3,118.5 498.5,118.5 498.6,118.4 498.8,118.3 498.9,118.3 499.1,118.2 499.3,118.1 499.4,118.0 499.6,118.0 499.8,117.9 500.0,117.8 500.1,117.8 500.3,117.7 500.5,117.6 500.6,117.5 500.8,117.5 501.0,117.4 501.2,117.3 501.4,117.2 501.5,117.2 501.7,117.1 501.9,117.0 502.1,116.9 502.3,116.8 502.5,116.8 502.6,116.7 502.8,116.6 503.0,116.5 503.2,116.4 503.4,116.3 503.6,116.2 503.8,116.1 504.0,116.0 504.2,115.8 504.4,115.7 504.6,115.6 504.8,115.5 505.0,115.4 505.2,115.2 505.4,115.1 505.6,115.0 505.9,114.9 506.1,114.7 506.3,114.6 506.5,114.5 506.7,114.3 507.0,114.2 507.2,114.1 507.4,113.9 507.6,113.8 507.9,113.6 508.1,113.5 508.3,113.4 508.6,113.2 508.8,113.1 509.1,112.9 509.3,112.8 509.6,112.6 509.8,112.5 510.1,112.3 510.3,112.1 510.6,111.9 510.9,111.8 511.1,111.6 511.4,111.4 511.7,111.2 511.9,111.0 512.2,110.8 512.5,110.6 512.8,110.4 513.1,110.2 513.4,110.0 513.7,109.8 514.0,109.6 514.3,109.3 514.6,109.1 514.9,108.9 515.3,108.7 515.6,108.4 515.9,108.2 516.3,108.0 516.6,107.7 517.0,107.5 517.3,107.3 517.7,107.1 518.1,106.9 518.5,106.7 518.8,106.5 519.2,106.3 519.6,106.0 520.1,105.8 520.5,105.6 520.9,105.3 521.4,105.1 521.8,104.8 522.3,104.6 522.8,104.3 523.3,104.0 523.8,103.8 524.3,103.5 524.8,103.2 525.4,103.0 525.9,102.7 526.5,102.4 527.2,102.1 527.8,101.7 528.5,101.4 529.2,101.1 529.9,100.7 530.6,100.4 531.4,100.2 532.3,100.0 533.1,99.7 534.1,99.4 535.1,99.1 536.2,98.8"/><polyline class="p" marker-start="url(#mgs)" marker-mid="url(#mgs)" marker-end="url(#mgs)" points="537.3,98.3 538.6,97.7 540.0,97.0 541.5,96.3 543.2,95.5 545.2,94.5 547.5,92.8 550.3,90.7 554.0,89.7 559.4,81.8 570.2,81.2"/>
<polyline class="p" marker-start="url(#mbs)" marker-mid="url(#mbs)" marker-end="url(#mbs)" points="349.8,194.0 360.6,177.9 366.0,173.9 369.7,172.0 372.5,171.0 374.8,170.3 376.8,169.6 378.5,169.0 380.0,168.5 381.4,168.0 382.7,167.6"/><polyline class="p" marker-start="url(#mbd)" marker-mid="url(#mbd)" marker-end="url(#mbd)" points="383.8,167.1 384.9,166.7 385.9,166.3 386.9,165.9 387.7,165.6 388.6,165.2 389.4,164.9 390.1,164.6 390.8,164.3 391.5,164.1 392.2,163.8 392.8,163.5 393.5,163.3 394.1,163.1 394.6,162.8 395.2,162.6 395.7,162.4 396.2,162.2 396.7,162.0 397.2,161.7 397.7,161.5 398.2,161.3 398.6,161.0 399.1,160.8 399.5,160.6 399.9,160.4 400.4,160.2 400.8,160.0 401.2,159.8 401.5,159.6 401.9,159.4 402.3,159.2 402.7,159.0 403.0,158.8 403.4,158.7 403.7,158.5 404.1,158.3 404.4,158.1 404.7,158.0 405.1,157.8 405.4,157.7 405.7,157.5 406.0,157.3 406.3,157.2 406.6,157.0 406.9,156.9 407.2,156.7 407.5,156.6 407.8,156.5 408.1,156.3 408.3,156.2 408.6,156.0 408.9,155.9 409.1,155.8 409.4,155.6 409.7,155.5 409.9,155.4 410.2,155.3 410.4,155.2 410.7,155.1 410.9,155.0 411.2,154.9 411.4,154.8 411.7,154.7 411.9,154.6 412.1,154.5 412.4,154.4 412.6,154.3 412.8,154.2 413.0,154.1 413.3,154.0 413.5,153.9 413.7,153.8 413.9,153.8 414.1,153.7 414.4,153.6 414.6,153.5 414.8,153.4 415.0,153.3 415.2,153.3 415.4,153.2 415.6,153.1 415.8,153.0 416.0,152.9 416.2,152.9 416.4,152.8 416.6,152.7 416.8,152.6 417.0,152.5 417.2,152.5 417.4,152.4 417.5,152.3 417.7,152.2 417.9,152.2 418.1,152.1 418.3,152.0 418.5,151.9 418.6,151.9 418.8,151.8 419.0,151.7 419.2,151.7 419.4,151.6 419.5,151.5 419.7,151.4 419.9,151.4 420.0,151.3 420.2,151.2 420.4,151.2 420.6,151.1 420.7,151.0 420.9,151.0 421.1,150.9 421.2,150.8 421.4,150.8 421.5,150.7 421.7,150.6 421.9,150.6 422.0,150.5 422.2,150.4 422.3,150.4 422.5,150.3 422.7,150.3 422.8,150.2 423.0,150.1 423.1,150.1 423.3,150.0 423.4,149.9 423.6,149.9 423.7,149.8 423.9,149.7 424.0,149.7 424.2,149.6 424.3,149.5 424.5,149.4 424.6,149.4 424.8,149.3 424.9,149.2 425.1,149.2 425.2,149.1 425.4,149.0 425.5,149.0 425.6,148.9 425.8,148.8 425.9,148.8 426.1,148.7 426.2,148.6 426.3,148.6 426.5,148.5 426.6,148.4 426.8,148.4 426.9,148.3 427.0,148.2 427.2,148.2 427.3,148.1 427.4,148.0 427.6,148.0 427.7,147.9 427.8,147.9 428.0,147.8 428.1,147.7 428.2,147.7 428.4,147.6 428.5,147.5 428.6,147.5 428.8,147.4 428.9,147.4 429.0,147.3 429.1,147.2 429.3,147.2 429.4,147.1 429.5,147.0 429.7,147.0 429.8,146.9 429.9,146.9 430.0,146.8 430.2,146.7 430.3,146.7 430.4,146.6 430.5,146.6 430.7,146.5 430.8,146.5 430.9,146.4 431.0,146.3 431.1,146.3 431.3,146.2 431.4,146.2 431.5,146.1 431.6,146.1 431.7,146.0 431.9,145.9 432.0,145.9 432.1,145.8 432.2,145.8 432.3,145.7 432.5,145.7 432.6,145.6 432.7,145.5 432.8,145.5 432.9,145.4 433.0,145.4 433.2,145.3 433.3,145.3 433.4,145.2 433.5,145.2 433.6,145.1 433.7,145.1 433.8,145.0 434.0,144.9 434.1,144.9 434.2,144.8 434.3,144.8 434.4,144.7 434.5,144.7 434.6,144.6 434.7,144.6 434.9,144.5 435.0,144.5 435.1,144.4 435.2,144.4 435.3,144.3 435.4,144.3 435.5,144.2 435.6,144.2 435.7,144.1 435.9,144.0 436.0,144.0 436.1,143.9 436.2,143.9 436.3,143.8 436.4,143.8 436.5,143.7 436.6,143.7 436.7,143.6 436.8,143.6 436.9,143.6 437.0,143.5 437.1,143.5 437.2,143.4 437.4,143.4 437.5,143.4 437.6,143.3 437.7,143.3 437.8,143.2 437.9,143.2 438.0,143.1 438.1,143.1 438.2,143.1 438.3,143.0 438.4,143.0 438.5,142.9 438.6,142.9 438.7,142.8 438.8,142.8 438.9,142.8 439.0,142.7 439.1,142.7 439.2,142.6 439.3,142.6 439.4,142.6 439.5,142.5 439.6,142.5 439.7,142.4 439.8,142.4 439.9,142.4 440.0,142.3 440.1,142.3 440.2,142.2 440.3,142.2 440.4,142.2 440.5,142.1 440.6,142.1 440.7,142.0 440.8,142.0 440.9,142.0 441.0,141.9 441.1,141.9 441.2,141.8 441.3,141.8 441.4,141.8 441.5,141.7 441.6,141.7 441.7,141.6 441.8,141.6 441.9,141.6 442.0,141.5 442.1,141.5 442.2,141.5 442.3,141.4 442.4,141.4 442.5,141.3 442.6,141.3 442.7,141.3 442.8,141.2 442.9,141.2 443.0,141.1 443.1,141.1 443.2,141.1 443.2,141.0 443.3,141.0 443.4,141.0 443.5,140.9 443.6,140.9 443.7,140.8 443.8,140.8 443.9,140.8 444.0,140.7 444.1,140.7 444.2,140.6 444.3,140.6 444.4,140.6 444.5,140.5 444.6,140.5 444.7,140.5 444.8,140.4 444.8,140.4 444.9,140.3 445.0,140.3 445.1,140.3 445.2,140.2 445.3,140.2 445.4,140.2 445.5,140.1 445.6,140.1 445.7,140.1 445.8,140.0 445.9,140.0 446.0,139.9 446.0,139.9 446.1,139.9 446.2,139.8 446.3,139.8 446.4,139.8 446.5,139.7 446.6,139.7 446.7,139.6 446.8,139.6 446.9,139.6 447.0,139.5 447.0,139.5 447.1,139.5 447.2,139.4 447.3,139.4 447.4,139.4 447.5,139.3 447.6,139.3 447.7,139.2 447.8,139.2 447.9,139.2 447.9,139.1 448.0,139.1 448.1,139.1 448.2,139.0 448.3,139.0 448.4,139.0 448.5,138.9 448.6,138.9 448.7,138.9 448.7,138.8 448.8,138.8 448.9,138.7 449.0,138.7 449.1,138.7 449.2,138.6 449.3,138.6 449.4,138.6 449.5,138.5 449.5,138.5 449.6,138.5 449.7,138.4 449.8,138.4 449.9,138.4 450.0,138.3 450.1,138.3 450.2,138.3 450.2,138.2 450.3,138.2 450.4,138.1 450.5,138.1 450.6,138.1 450.7,138.0 450.8,138.0 450.9,138.0 450.9,137.9 451.0,137.9 451.1,137.9 451.2,137.8 451.3,137.8 451.4,137.8 451.5,137.7 451.6,137.7 451.6,137.7 451.7,137.6 451.8,137.6 451.9,137.6 452.0,137.5 452.1,137.5 452.2,137.4 452.2,137.4 452.3,137.4 452.4,137.3 452.5,137.3 452.6,137.3 452.7,137.2 452.8,137.2 452.9,137.2 452.9,137.1 453.0,137.1 453.1,137.1 453.2,137.0 453.3,137.0 453.4,137.0 453.5,136.9 453.5,136.9 453.6,136.9 453.7,136.8 453.8,136.8 453.9,136.8 454.0,136.7 454.0,136.7 454.1,136.7 454.2,136.6 454.3,136.6 454.4,136.6 454.5,136.5 454.6,136.5 454.6,136.4 454.7,136.4 454.8,136.4 454.9,136.3 455.0,136.3 455.1,136.3 455.2,136.2 455.2,136.2 455.3,136.2 455.4,136.1 455.5,136.1 455.6,136.1 455.7,136.0 455.7,136.0 455.8,136.0 455.9,135.9 456.0,135.9 456.1,135.9 456.2,135.8 456.3,135.8 456.3,135.8 456.4,135.7 456.5,135.7 456.6,135.7 456.7,135.6 456.8,135.6 456.8,135.6 456.9,135.5 457.0,135.5 457.1,135.5 457.2,135.4 457.3,135.4 457.4,135.4 457.4,135.3 457.5,135.3 457.6,135.3 457.7,135.2 457.8,135.2 457.9,135.2 457.9,135.1 458.0,135.1 458.1,135.1 458.2,135.0 458.3,135.0 458.4,135.0 458.4,134.9 458.5,134.9 458.6,134.9 458.7,134.8 458.8,134.8 458.9,134.8 459.0,134.7 459.0,134.7 459.1,134.7 459.2,134.6 459.3,134.6 459.4,134.6 459.5,134.5 459.5,134.5 459.6,134.5 459.7,134.4 459.8,134.4 459.9,134.4 460.0,134.3 460.0,134.3 460.1,134.2 460.2,134.2 460.3,134.2 460.4,134.1 460.5,134.1 460.5,134.1 460.6,134.0 460.7,134.0 460.8,134.0 460.9,133.9 461.0,133.9 461.0,133.9 461.1,133.8 461.2,133.8 461.3,133.8 461.4,133.7 461.5,133.7 461.6,133.7 461.6,133.6 461.7,133.6 461.8,133.6 461.9,133.5 462.0,133.5 462.1,133.5 462.1,133.4 462.2,133.4 462.3,133.4 462.4,133.3 462.5,133.3 462.6,133.3 462.6,133.2 462.7,133.2 462.8,133.2 462.9,133.1 463.0,133.1 463.1,133.1 463.2,133.0 463.2,133.0 463.3,133.0 463.4,132.9 463.5,132.9 463.6,132.9 463.7,132.8 463.7,132.8 463.8,132.8 463.9,132.7 464.0,132.7 464.1,132.7 464.2,132.6 464.3,132.6 464.3,132.6 464.4,132.5 464.5,132.5 464.6,132.5 464.7,132.4 464.8,132.4 464.8,132.4 464.9,132.3 465.0,132.3 465.1,132.3 465.2,132.2 465.3,132.2 465.4,132.2 465.4,132.1 465.5,132.1 465.6,132.0 465.7,132.0 465.8,132.0 465.9,131.9 466.0,131.9 466.0,131.9 466.1,131.8 466.2,131.8 466.3,131.8 466.4,131.7 466.5,131.7 466.5,131.7 466.6,131.6 466.7,131.6 466.8,131.6 466.9,131.5 467.0,131.5 467.1,131.5 467.1,131.4 467.2,131.4 467.3,131.4 467.4,131.3 467.5,131.3 467.6,131.3 467.7,131.2 467.8,131.2 467.8,131.2 467.9,131.1 468.0,131.1 468.1,131.0 468.2,131.0 468.3,131.0 468.4,130.9 468.4,130.9 468.5,130.9 468.6,130.8 468.7,130.8 468.8,130.8 468.9,130.7 469.0,130.7 469.1,130.7 469.1,130.6 469.2,130.6 469.3,130.6 469.4,130.5 469.5,130.5 469.6,130.5 469.7,130.4 469.8,130.4 469.8,130.3 469.9,130.3 470.0,130.3 470.1,130.2 470.2,130.2 470.3,130.2 470.4,130.1 470.5,130.1 470.5,130.1 470.6,130.0 470.7,130.0 470.8,130.0 470.9,129.9 471.0,129.9 471.1,129.9 471.2,129.8 471.3,129.8 471.3,129.7 471.4,129.7 471.5,129.7 471.6,129.6 471.7,129.6 471.8,129.6 471.9,129.5 472.0,129.5 472.1,129.5 472.1,129.4 472.2,129.4 472.3,129.4 472.4,129.3 472.5,129.3 472.6,129.2 472.7,129.2 472.8,129.2 472.9,129.1 473.0,129.1 473.0,129.1 473.1,129.0 473.2,129.0 473.3,129.0 473.4,128.9 473.5,128.9 473.6,128.8 473.7,128.8 473.8,128.8 473.9,128.7 474.0,128.7 474.0,128.7 474.1,128.6 474.2,128.6 474.3,128.5 474.4,128.5 474.5,128.5 474.6,128.4 474.7,128.4 474.8,128.4 474.9,128.3 475.0,128.3 475.1,128.3 475.2,128.2 475.2,128.2 475.3,128.1 475.4,128.1 475.5,128.1 475.6,128.0 475.7,128.0 475.8,128.0 475.9,127.9 476.0,127.9 476.1,127.8 476.2,127.8 476.3,127.8 476.4,127.7 476.5,127.7 476.6,127.6 476.7,127.6 476.8,127.6 476.8,127.5 476.9,127.5 477.0,127.5 477.1,127.4 477.2,127.4 477.3,127.3 477.4,127.3 477.5,127.3 477.6,127.2 477.7,127.2 477.8,127.1 477.9,127.1 478.0,127.1 478.1,127.0 478.2,127.0 478.3,127.0 478.4,126.9 478.5,126.9 478.6,126.8 478.7,126.8 478.8,126.8 478.9,126.7 479.0,126.7 479.1,126.6 479.2,126.6 479.3,126.6 479.4,126.5 479.5,126.5 479.6,126.4 479.7,126.4 479.8,126.4 479.9,126.3 480.0,126.3 480.1,126.2 480.2,126.2 480.3,126.2 480.4,126.1 480.5,126.1 480.6,126.0 480.7,126.0 480.8,126.0 480.9,125.9 481.0,125.9 481.1,125.8 481.2,125.8 481.3,125.8 481.4,125.7 481.5,125.7 481.6,125.6 481.7,125.6 481.8,125.5 481.9,125.5 482.0,125.5 482.1,125.4 482.2,125.4 482.3,125.3 482.4,125.3 482.5,125.2 482.6,125.2 482.8,125.2 482.9,125.1 483.0,125.1 483.1,125.0 483.2,125.0 483.3,125.0 483.4,124.9 483.5,124.9 483.6,124.8 483.7,124.8 483.8,124.7 483.9,124.7 484.0,124.6 484.1,124.6 484.3,124.6 484.4,124.5 484.5,124.5 484.6,124.4 484.7,124.4 484.8,124.3 484.9,124.3 485.0,124.3 485.1,124.2 485.3,124.2 485.4,124.1 485.5,124.1 485.6,124.0 485.7,124.0 485.8,123.9 485.9,123.9 486.0,123.8 486.2,123.8 486.3,123.8 486.4,123.7 486.5,123.7 486.6,123.6 486.7,123.6 486.8,123.5 487.0,123.5 487.1,123.4 487.2,123.4 487.3,123.3 487.4,123.3 487.5,123.2 487.7,123.2 487.8,123.1 487.9,123.1 488.0,123.1 488.1,123.0 488.3,123.0 488.4,122.9 488.5,122.9 488.6,122.8 488.7,122.8 488.9,122.7 489.0,122.7 489.1,122.6 489.2,122.6 489.3,122.5 489.5,122.5 489.6,122.4 489.7,122.4 489.8,122.3 490.0,122.3 490.1,122.2 490.2,122.2 490.3,122.1 490.5,122.1 490.6,122.0 490.7,122.0 490.9,121.9 491.0,121.9 491.1,121.8 491.2,121.8 491.4,121.7 491.5,121.7 491.6,121.6 491.8,121.5 491.9,121.5 492.0,121.4 492.2,121.4 492.3,121.3 492.4,121.3 492.6,121.2 492.7,121.2 492.8,121.1 493.0,121.1 493.1,121.0 493.2,121.0 493.4,120.9 493.5,120.8 493.7,120.8 493.8,120.7 493.9,120.7 494.1,120.6 494.2,120.6 494.4,120.5 494.5,120.4 494.6,120.4 494.8,120.3 494.9,120.3 495.1,120.2 495.2,120.1 495.4,120.1 495.5,120.0 495.7,119.9 495.8,119.9 496.0,119.8 496.1,119.8 496.3,119.7 496.4,119.6 496.6,119.6 496.7,119.5 496.9,119.4 497.0,119.4 497.2,119.3 497.3,119.3 497.5,119.2 497.7,119.1 497.8,119.1 498.0,119.0 498.1,118.9 498.3,118.9 498.5,118.8 498.6,118.7 498.8,118.7 498.9,118.6 499.1,118.5 499.3,118.4 499.4,118.4 499.6,118.3 499.8,118.2 500.0,118.2 500.1,118.1 500.3,118.0 500.5,118.0 500.6,117.9 500.8,117.8 501.0,117.7 501.2,117.7 501.4,117.6 501.5,117.5 501.7,117.4 501.9,117.4 502.1,117.3 502.3,117.2 502.5,117.1 502.6,117.0 502.8,117.0 503.0,116.9 503.2,116.8 503.4,116.7 503.6,116.7 503.8,116.6 504.0,116.5 504.2,116.4 504.4,116.3 504.6,116.2 504.8,116.2 505.0,116.1 505.2,116.0 505.4,115.9 505.6,115.8 505.9,115.7 506.1,115.6 506.3,115.5 506.5,115.4 506.7,115.4 507.0,115.3 507.2,115.2 507.4,115.1 507.6,115.0 507.9,114.9 508.1,114.8 508.3,114.7 508.6,114.6 508.8,114.5 509.1,114.4 509.3,114.3 509.6,114.2 509.8,114.1 510.1,114.0 510.3,113.8 510.6,113.7 510.9,113.6 511.1,113.5 511.4,113.3 511.7,113.2 511.9,113.1 512.2,112.9 512.5,112.8 512.8,112.7 513.1,112.5 513.4,112.4 513.7,112.3 514.0,112.1 514.3,112.0 514.6,111.8 514.9,111.7 515.3,111.5 515.6,111.4 515.9,111.2 516.3,111.0 516.6,110.9 517.0,110.7 517.3,110.5 517.7,110.4 518.1,110.2 518.5,110.0 518.8,109.8 519.2,109.6 519.6,109.5 520.1,109.3 520.5,109.1 520.9,108.9 521.4,108.7 521.8,108.4 522.3,108.2 522.8,108.0 523.3,107.8 523.8,107.5 524.3,107.2 524.8,107.0 525.4,106.7 525.9,106.4 526.5,106.1 527.2,105.8 527.8,105.5 528.5,105.2 529.2,104.8 529.9,104.5 530.6,104.1 531.4,103.7 532.3,103.3 533.1,102.8 534.1,102.3 535.1,101.8 536.2,101.3"/><polyline class="p" marker-start="url(#mbs)" marker-mid="url(#mbs)" marker-end="url(#mbs)" points="537.3,100.7 538.6,100.0 540.0,99.2 541.5,98.3 543.2,94.9 545.2,92.9 547.5,91.0 550.3,90.3 554.0,89.7 559.4,85.0 570.2,82.0"/>
<polyline class="p" marker-start="url(#mrs)" marker-mid="url(#mrs)" marker-end="url(#mrs)" points="349.8,171.6 360.6,170.8 366.0,169.1 369.7,167.8 372.5,167.0 374.8,166.2 376.8,165.6 378.5,165.1 380.0,164.6 381.4,164.2 382.7,163.8"/><polyline class="p" marker-start="url(#mrd)" marker-mid="url(#mrd)" marker-end="url(#mrd)" points="383.8,163.4 384.9,162.9 385.9,162.5 386.9,162.1 387.7,161.7 388.6,161.4 389.4,161.1 390.1,160.7 390.8,160.4 391.5,160.1 392.2,159.9 392.8,159.6 393.5,159.3 394.1,159.1 394.6,158.8 395.2,158.6 395.7,158.4 396.2,158.2 396.7,158.0 397.2,157.8 397.7,157.6 398.2,157.5 398.6,157.3 399.1,157.2 399.5,157.0 399.9,156.9 400.4,156.7 400.8,156.6 401.2,156.5 401.5,156.3 401.9,156.2 402.3,156.1 402.7,155.9 403.0,155.8 403.4,155.7 403.7,155.6 404.1,155.5 404.4,155.4 404.7,155.2 405.1,155.1 405.4,155.0 405.7,154.9 406.0,154.8 406.3,154.7 406.6,154.6 406.9,154.5 407.2,154.4 407.5,154.3 407.8,154.2 408.1,154.1 408.3,154.0 408.6,153.9 408.9,153.8 409.1,153.7 409.4,153.7 409.7,153.6 409.9,153.5 410.2,153.4 410.4,153.3 410.7,153.2 410.9,153.1 411.2,153.0 411.4,153.0 411.7,152.9 411.9,152.8 412.1,152.7 412.4,152.6 412.6,152.5 412.8,152.5 413.0,152.4 413.3,152.3 413.5,152.2 413.7,152.1 413.9,152.1 414.1,152.0 414.4,151.9 414.6,151.8 414.8,151.8 415.0,151.7 415.2,151.6 415.4,151.5 415.6,151.5 415.8,151.4 416.0,151.3 416.2,151.3 416.4,151.2 416.6,151.1 416.8,151.1 417.0,151.0 417.2,150.9 417.4,150.9 417.5,150.8 417.7,150.7 417.9,150.7 418.1,150.6 418.3,150.5 418.5,150.5 418.6,150.4 418.8,150.3 419.0,150.3 419.2,150.2 419.4,150.1 419.5,150.1 419.7,150.0 419.9,150.0 420.0,149.9 420.2,149.8 420.4,149.8 420.6,149.7 420.7,149.7 420.9,149.6 421.1,149.5 421.2,149.5 421.4,149.4 421.5,149.4 421.7,149.3 421.9,149.2 422.0,149.2 422.2,149.1 422.3,149.1 422.5,149.0 422.7,149.0 422.8,148.9 423.0,148.9 423.1,148.8 423.3,148.8 423.4,148.7 423.6,148.6 423.7,148.6 423.9,148.5 424.0,148.4 424.2,148.4 424.3,148.3 424.5,148.3 424.6,148.2 424.8,148.2 424.9,148.1 425.1,148.0 425.2,148.0 425.4,147.9 425.5,147.9 425.6,147.8 425.8,147.8 425.9,147.7 426.1,147.6 426.2,147.6 426.3,147.5 426.5,147.5 426.6,147.4 426.8,147.4 426.9,147.3 427.0,147.3 427.2,147.2 427.3,147.1 427.4,147.1 427.6,147.0 427.7,147.0 427.8,146.9 428.0,146.9 428.1,146.8 428.2,146.8 428.4,146.7 428.5,146.7 428.6,146.6 428.8,146.6 428.9,146.5 429.0,146.5 429.1,146.4 429.3,146.4 429.4,146.3 429.5,146.3 429.7,146.2 429.8,146.2 429.9,146.1 430.0,146.1 430.2,146.0 430.3,146.0 430.4,145.9 430.5,145.9 430.7,145.8 430.8,145.8 430.9,145.7 431.0,145.7 431.1,145.6 431.3,145.6 431.4,145.5 431.5,145.5 431.6,145.4 431.7,145.4 431.9,145.3 432.0,145.3 432.1,145.2 432.2,145.2 432.3,145.1 432.5,145.1 432.6,145.0 432.7,145.0 432.8,144.9 432.9,144.9 433.0,144.8 433.2,144.8 433.3,144.8 433.4,144.7 433.5,144.7 433.6,144.6 433.7,144.6 433.8,144.5 434.0,144.5 434.1,144.4 434.2,144.4 434.3,144.3 434.4,144.3 434.5,144.3 434.6,144.2 434.7,144.2 434.9,144.1 435.0,144.1 435.1,144.0 435.2,144.0 435.3,143.9 435.4,143.9 435.5,143.9 435.6,143.8 435.7,143.8 435.9,143.7 436.0,143.7 436.1,143.6 436.2,143.6 436.3,143.6 436.4,143.5 436.5,143.5 436.6,143.4 436.7,143.4 436.8,143.3 436.9,143.3 437.0,143.3 437.1,143.2 437.2,143.2 437.4,143.1 437.5,143.1 437.6,143.1 437.7,143.0 437.8,143.0 437.9,142.9 438.0,142.9 438.1,142.8 438.2,142.8 438.3,142.8 438.4,142.7 438.5,142.7 438.6,142.6 438.7,142.6 438.8,142.6 438.9,142.5 439.0,142.5 439.1,142.4 439.2,142.4 439.3,142.4 439.4,142.3 439.5,142.3 439.6,142.2 439.7,142.2 439.8,142.2 439.9,142.1 440.0,142.1 440.1,142.1 440.2,142.0 440.3,142.0 440.4,141.9 440.5,141.9 440.6,141.9 440.7,141.8 440.8,141.8 440.9,141.7 441.0,141.7 441.1,141.7 441.2,141.6 441.3,141.6 441.4,141.5 441.5,141.5 441.6,141.5 441.7,141.4 441.8,141.4 441.9,141.4 442.0,141.3 442.1,141.3 442.2,141.2 442.3,141.2 442.4,141.2 442.5,141.1 442.6,141.1 442.7,141.1 442.8,141.0 442.9,141.0 443.0,140.9 443.1,140.9 443.2,140.9 443.2,140.8 443.3,140.8 443.4,140.8 443.5,140.7 443.6,140.7 443.7,140.6 443.8,140.6 443.9,140.6 444.0,140.5 444.1,140.5 444.2,140.5 444.3,140.4 444.4,140.4 444.5,140.4 444.6,140.3 444.7,140.3 444.8,140.2 444.8,140.2 444.9,140.2 445.0,140.1 445.1,140.1 445.2,140.1 445.3,140.0 445.4,140.0 445.5,140.0 445.6,139.9 445.7,139.9 445.8,139.9 445.9,139.8 446.0,139.8 446.0,139.7 446.1,139.7 446.2,139.7 446.3,139.6 446.4,139.6 446.5,139.6 446.6,139.5 446.7,139.5 446.8,139.5 446.9,139.4 447.0,139.4 447.0,139.4 447.1,139.3 447.2,139.3 447.3,139.2 447.4,139.2 447.5,139.2 447.6,139.1 447.7,139.1 447.8,139.1 447.9,139.0 447.9,139.0 448.0,139.0 448.1,138.9 448.2,138.9 448.3,138.9 448.4,138.8 448.5,138.8 448.6,138.8 448.7,138.7 448.7,138.7 448.8,138.7 448.9,138.6 449.0,138.6 449.1,138.5 449.2,138.5 449.3,138.5 449.4,138.4 449.5,138.4 449.5,138.4 449.6,138.3 449.7,138.3 449.8,138.3 449.9,138.2 450.0,138.2 450.1,138.2 450.2,138.1 450.2,138.1 450.3,138.1 450.4,138.0 450.5,138.0 450.6,138.0 450.7,137.9 450.8,137.9 450.9,137.9 450.9,137.8 451.0,137.8 451.1,137.8 451.2,137.7 451.3,137.7 451.4,137.7 451.5,137.6 451.6,137.6 451.6,137.6 451.7,137.5 451.8,137.5 451.9,137.5 452.0,137.4 452.1,137.4 452.2,137.4 452.2,137.3 452.3,137.3 452.4,137.3 452.5,137.2 452.6,137.2 452.7,137.2 452.8,137.1 452.9,137.1 452.9,137.1 453.0,137.0 453.1,137.0 453.2,137.0 453.3,136.9 453.4,136.9 453.5,136.9 453.5,136.8 453.6,136.8 453.7,136.8 453.8,136.7 453.9,136.7 454.0,136.7 454.0,136.6 454.1,136.6 454.2,136.6 454.3,136.5 454.4,136.5 454.5,136.5 454.6,136.4 454.6,136.4 454.7,136.4 454.8,136.3 454.9,136.3 455.0,136.3 455.1,136.2 455.2,136.2 455.2,136.2 455.3,136.1 455.4,136.1 455.5,136.1 455.6,136.0 455.7,136.0 455.7,136.0 455.8,135.9 455.9,135.9 456.0,135.9 456.1,135.8 456.2,135.8 456.3,135.8 456.3,135.7 456.4,135.7 456.5,135.7 456.6,135.6 456.7,135.6 456.8,135.6 456.8,135.5 456.9,135.5 457.0,135.5 457.1,135.4 457.2,135.4 457.3,135.4 457.4,135.3 457.4,135.3 457.5,135.3 457.6,135.2 457.7,135.2 457.8,135.2 457.9,135.1 457.9,135.1 458.0,135.1 458.1,135.0 458.2,135.0 458.3,135.0 458.4,134.9 458.4,134.9 458.5,134.9 458.6,134.8 458.7,134.8 458.8,134.8 458.9,134.7 459.0,134.7 459.0,134.7 459.1,134.6 459.2,134.6 459.3,134.6 459.4,134.5 459.5,134.5 459.5,134.5 459.6,134.4 459.7,134.4 459.8,134.4 459.9,134.3 460.0,134.3 460.0,134.3 460.1,134.2 460.2,134.2 460.3,134.2 460.4,134.1 460.5,134.1 460.5,134.1 460.6,134.0 460.7,134.0 460.8,134.0 460.9,133.9 461.0,133.9 461.0,133.9 461.1,133.8 461.2,133.8 461.3,133.8 461.4,133.7 461.5,133.7 461.6,133.7 461.6,133.6 461.7,133.6 461.8,133.6 461.9,133.5 462.0,133.5 462.1,133.5 462.1,133.4 462.2,133.4 462.3,133.4 462.4,133.3 462.5,133.3 462.6,133.3 462.6,133.2 462.7,133.2 462.8,133.2 462.9,133.1 463.0,133.1 463.1,133.1 463.2,133.0 463.2,133.0 463.3,133.0 463.4,132.9 463.5,132.9 463.6,132.9 463.7,132.8 463.7,132.8 463.8,132.8 463.9,132.7 464.0,132.7 464.1,132.7 464.2,132.6 464.3,132.6 464.3,132.6 464.4,132.5 464.5,132.5 464.6,132.5 464.7,132.4 464.8,132.4 464.8,132.4 464.9,132.3 465.0,132.3 465.1,132.3 465.2,132.2 465.3,132.2 465.4,132.2 465.4,132.1 465.5,132.1 465.6,132.0 465.7,132.0 465.8,132.0 465.9,131.9 466.0,131.9 466.0,131.9 466.1,131.8 466.2,131.8 466.3,131.8 466.4,131.7 466.5,131.7 466.5,131.7 466.6,131.6 466.7,131.6 466.8,131.6 466.9,131.5 467.0,131.5 467.1,131.5 467.1,131.4 467.2,131.4 467.3,131.4 467.4,131.3 467.5,131.3 467.6,131.3 467.7,131.2 467.8,131.2 467.8,131.2 467.9,131.1 468.0,131.1 468.1,131.0 468.2,131.0 468.3,131.0 468.4,130.9 468.4,130.9 468.5,130.9 468.6,130.8 468.7,130.8 468.8,130.8 468.9,130.7 469.0,130.7 469.1,130.7 469.1,130.6 469.2,130.6 469.3,130.6 469.4,130.5 469.5,130.5 469.6,130.5 469.7,130.4 469.8,130.4 469.8,130.3 469.9,130.3 470.0,130.3 470.1,130.2 470.2,130.2 470.3,130.2 470.4,130.1 470.5,130.1 470.5,130.1 470.6,130.0 470.7,130.0 470.8,130.0 470.9,129.9 471.0,129.9 471.1,129.9 471.2,129.8 471.3,129.8 471.3,129.7 471.4,129.7 471.5,129.7 471.6,129.6 471.7,129.6 471.8,129.6 471.9,129.5 472.0,129.5 472.1,129.5 472.1,129.4 472.2,129.4 472.3,129.4 472.4,129.3 472.5,129.3 472.6,129.2 472.7,129.2 472.8,129.2 472.9,129.1 473.0,129.1 473.0,129.1 473.1,129.0 473.2,129.0 473.3,129.0 473.4,128.9 473.5,128.9 473.6,128.8 473.7,128.8 473.8,128.8 473.9,128.7 474.0,128.7 474.0,128.7 474.1,128.6 474.2,128.6 474.3,128.5 474.4,128.5 474.5,128.5 474.6,128.4 474.7,128.4 474.8,128.4 474.9,128.3 475.0,128.3 475.1,128.3 475.2,128.2 475.2,128.2 475.3,128.1 475.4,128.1 475.5,128.1 475.6,128.0 475.7,128.0 475.8,128.0 475.9,127.9 476.0,127.9 476.1,127.8 476.2,127.8 476.3,127.8 476.4,127.7 476.5,127.7 476.6,127.6 476.7,127.6 476.8,127.6 476.8,127.5 476.9,127.5 477.0,127.5 477.1,127.4 477.2,127.4 477.3,127.3 477.4,127.3 477.5,127.3 477.6,127.2 477.7,127.2 477.8,127.1 477.9,127.1 478.0,127.1 478.1,127.0 478.2,127.0 478.3,127.0 478.4,126.9 478.5,126.9 478.6,126.8 478.7,126.8 478.8,126.8 478.9,126.7 479.0,126.7 479.1,126.6 479.2,126.6 479.3,126.6 479.4,126.5 479.5,126.5 479.6,126.4 479.7,126.4 479.8,126.4 479.9,126.3 480.0,126.3 480.1,126.2 480.2,126.2 480.3,126.2 480.4,126.1 480.5,126.1 480.6,126.0 480.7,126.0 480.8,126.0 480.9,125.9 481.0,125.9 481.1,125.8 481.2,125.8 481.3,125.8 481.4,125.7 481.5,125.7 481.6,125.6 481.7,125.6 481.8,125.5 481.9,125.5 482.0,125.5 482.1,125.4 482.2,125.4 482.3,125.3 482.4,125.3 482.5,125.2 482.6,125.2 482.8,125.2 482.9,125.1 483.0,125.1 483.1,125.0 483.2,125.0 483.3,125.0 483.4,124.9 483.5,124.9 483.6,124.8 483.7,124.8 483.8,124.7 483.9,124.7 484.0,124.6 484.1,124.6 484.3,124.6 484.4,124.5 484.5,124.5 484.6,124.4 484.7,124.4 484.8,124.3 484.9,124.3 485.0,124.3 485.1,124.2 485.3,124.2 485.4,124.1 485.5,124.1 485.6,124.0 485.7,124.0 485.8,123.9 485.9,123.9 486.0,123.8 486.2,123.8 486.3,123.8 486.4,123.7 486.5,123.7 486.6,123.6 486.7,123.6 486.8,123.5 487.0,123.5 487.1,123.4 487.2,123.4 487.3,123.3 487.4,123.3 487.5,123.2 487.7,123.2 487.8,123.1 487.9,123.1 488.0,123.1 488.1,123.0 488.3,123.0 488.4,122.9 488.5,122.9 488.6,122.8 488.7,122.8 488.9,122.7 489.0,122.7 489.1,122.6 489.2,122.6 489.3,122.5 489.5,122.5 489.6,122.4 489.7,122.4 489.8,122.3 490.0,122.3 490.1,122.2 490.2,122.2 490.3,122.1 490.5,122.1 490.6,122.0 490.7,122.0 490.9,121.9 491.0,121.9 491.1,121.8 491.2,121.8 491.4,121.7 491.5,121.7 491.6,121.6 491.8,121.5 491.9,121.5 492.0,121.4 492.2,121.4 492.3,121.3 492.4,121.3 492.6,121.2 492.7,121.2 492.8,121.1 493.0,121.1 493.1,121.0 493.2,121.0 493.4,120.9 493.5,120.8 493.7,120.8 493.8,120.7 493.9,120.7 494.1,120.6 494.2,120.6 494.4,120.5 494.5,120.5 494.6,120.4 494.8,120.4 494.9,120.3 495.1,120.3 495.2,120.2 495.4,120.2 495.5,120.1 495.7,120.0 495.8,120.0 496.0,119.9 496.1,119.9 496.3,119.8 496.4,119.8 496.6,119.7 496.7,119.7 496.9,119.6 497.0,119.5 497.2,119.5 497.3,119.4 497.5,119.4 497.7,119.3 497.8,119.2 498.0,119.2 498.1,119.1 498.3,119.1 498.5,119.0 498.6,118.9 498.8,118.9 498.9,118.8 499.1,118.8 499.3,118.7 499.4,118.6 499.6,118.6 499.8,118.5 500.0,118.5 500.1,118.4 500.3,118.3 500.5,118.3 500.6,118.2 500.8,118.1 501.0,118.1 501.2,118.0 501.4,117.9 501.5,117.9 501.7,117.8 501.9,117.7 502.1,117.7 502.3,117.6 502.5,117.5 502.6,117.5 502.8,117.4 503.0,117.3 503.2,117.2 503.4,117.2 503.6,117.1 503.8,117.0 504.0,116.9 504.2,116.9 504.4,116.8 504.6,116.7 504.8,116.6 505.0,116.6 505.2,116.5 505.4,116.4 505.6,116.3 505.9,116.3 506.1,116.2 506.3,116.1 506.5,116.0 506.7,115.9 507.0,115.8 507.2,115.8 507.4,115.7 507.6,115.6 507.9,115.5 508.1,115.4 508.3,115.3 508.6,115.2 508.8,115.2 509.1,115.1 509.3,115.0 509.6,114.9 509.8,114.8 510.1,114.7 510.3,114.6 510.6,114.5 510.9,114.4 511.1,114.3 511.4,114.2 511.7,114.1 511.9,114.0 512.2,113.9 512.5,113.8 512.8,113.7 513.1,113.6 513.4,113.5 513.7,113.3 514.0,113.2 514.3,113.1 514.6,113.0 514.9,112.9 515.3,112.8 515.6,112.6 515.9,112.5 516.3,112.4 516.6,112.3 517.0,112.1 517.3,112.0 517.7,111.9 518.1,111.7 518.5,111.6 518.8,111.4 519.2,111.3 519.6,111.1 520.1,111.0 520.5,110.8 520.9,110.7 521.4,110.5 521.8,110.3 522.3,110.2 522.8,110.0 523.3,109.8 523.8,109.6 524.3,109.4 524.8,109.2 525.4,109.0 525.9,108.8 526.5,108.6 527.2,108.3 527.8,108.1 528.5,107.9 529.2,107.6 529.9,107.3 530.6,107.1 531.4,106.8 532.3,106.4 533.1,106.1 534.1,105.8 535.1,105.4 536.2,105.0"/><polyline class="p" marker-start="url(#mrs)" marker-mid="url(#mrs)" marker-end="url(#mrs)" points="537.3,104.5 538.6,103.8 540.0,103.1 541.5,102.3 543.2,101.4 545.2,100.1 547.5,98.6 550.3,97.1 554.0,96.4 559.4,93.3 570.2,93.7"/>
<line x1="341.00" y1="182.08" x2="579.20" y2="86.44" stroke="#000" stroke-width="1.3"/>
<g fill="none"><line x1="340.20" y1="40.9" x2="580.05" y2="40.9" stroke="#a2a2a2" stroke-width="1.8"/><line x1="341.10" y1="40" x2="341.10" y2="249.8" stroke="#9a9a9a" stroke-width="1.8"/><line x1="340.20" y1="248.9" x2="580.05" y2="248.9" stroke="#9a9a9a" stroke-width="1.8"/><line x1="579.50" y1="40" x2="579.50" y2="249.8" stroke="#8a8a8a" stroke-width="1.1"/></g>
<line x1="359.50" y1="248.9" x2="560.50" y2="248.9" stroke="#000" stroke-opacity="0.22" stroke-width="1.6"/>
<line x1="359.50" y1="248.8" x2="359.50" y2="254.4" stroke="#222" stroke-width="1"/>
<text x="359.50" y="267" text-anchor="middle" class="ax">−3</text>
<line x1="393.00" y1="248.8" x2="393.00" y2="254.4" stroke="#222" stroke-width="1"/>
<text x="393.00" y="267" text-anchor="middle" class="ax">−2</text>
<line x1="426.50" y1="248.8" x2="426.50" y2="254.4" stroke="#222" stroke-width="1"/>
<text x="426.50" y="267" text-anchor="middle" class="ax">−1</text>
<line x1="460.00" y1="248.8" x2="460.00" y2="254.4" stroke="#222" stroke-width="1"/>
<text x="460.00" y="267" text-anchor="middle" class="ax">0</text>
<line x1="493.50" y1="248.8" x2="493.50" y2="254.4" stroke="#222" stroke-width="1"/>
<text x="493.50" y="267" text-anchor="middle" class="ax">1</text>
<line x1="527.00" y1="248.8" x2="527.00" y2="254.4" stroke="#222" stroke-width="1"/>
<text x="527.00" y="267" text-anchor="middle" class="ax">2</text>
<line x1="560.50" y1="248.8" x2="560.50" y2="254.4" stroke="#222" stroke-width="1"/>
<text x="560.50" y="267" text-anchor="middle" class="ax">3</text>
<line x1="341.10" y1="54.50" x2="341.10" y2="242.00" stroke="#000" stroke-opacity="0.22" stroke-width="1.6"/>
<line x1="335.40" y1="54.50" x2="341.00" y2="54.50" stroke="#222" stroke-width="1"/>
<text transform="translate(329.00,54.50) rotate(-90)" text-anchor="middle" class="ax">6</text>
<line x1="335.40" y1="81.00" x2="341.00" y2="81.00" stroke="#222" stroke-width="1"/>
<text transform="translate(329.00,81.00) rotate(-90)" text-anchor="middle" class="ax">4</text>
<line x1="335.40" y1="107.50" x2="341.00" y2="107.50" stroke="#222" stroke-width="1"/>
<text transform="translate(329.00,107.50) rotate(-90)" text-anchor="middle" class="ax">2</text>
<line x1="335.40" y1="134.50" x2="341.00" y2="134.50" stroke="#222" stroke-width="1"/>
<text transform="translate(329.00,134.50) rotate(-90)" text-anchor="middle" class="ax">0</text>
<line x1="335.40" y1="161.50" x2="341.00" y2="161.50" stroke="#222" stroke-width="1"/>
<text transform="translate(329.00,161.50) rotate(-90)" text-anchor="middle" class="ax">−2</text>
<line x1="335.40" y1="188.50" x2="341.00" y2="188.50" stroke="#222" stroke-width="1"/>
<text transform="translate(329.00,188.50) rotate(-90)" text-anchor="middle" class="ax">−4</text>
<line x1="335.40" y1="215.00" x2="341.00" y2="215.00" stroke="#222" stroke-width="1"/>
<text transform="translate(329.00,215.00) rotate(-90)" text-anchor="middle" class="ax">−6</text>
<line x1="335.40" y1="242.00" x2="341.00" y2="242.00" stroke="#222" stroke-width="1"/>
<text transform="translate(329.00,242.00) rotate(-90)" text-anchor="middle" class="ax">−8</text>
<text x="460.00" y="287.2" text-anchor="middle" class="lab">Theoretical Quantiles</text>
<text transform="translate(309.50,145.3) rotate(-90)" text-anchor="middle" class="lab">Sample Quantiles</text>
<text x="460.00" y="23" text-anchor="middle" class="ttl">β</text>
<rect x="484.4" y="198.8" width="94.7" height="49.9" fill="#fff" stroke="#333" stroke-width="0.8"/>
<line x1="491" y1="209.20" x2="507.4" y2="209.20" stroke="#cdcd00" stroke-width="1.5"/>
<text x="514.8" y="212.20" class="leg">n = 22, p = 20</text>
<line x1="491" y1="219.15" x2="507.4" y2="219.15" stroke="#00cd00" stroke-width="1.5"/>
<text x="514.8" y="222.15" class="leg">n = 111, p = 100</text>
<line x1="491" y1="229.10" x2="507.4" y2="229.10" stroke="#0000cd" stroke-width="1.5"/>
<text x="514.8" y="232.10" class="leg">n = 278, p = 250</text>
<line x1="491" y1="239.05" x2="507.4" y2="239.05" stroke="#cd0000" stroke-width="1.5"/>
<text x="514.8" y="242.05" class="leg">n = 556, p = 500</text>
</svg>
</body></html>
